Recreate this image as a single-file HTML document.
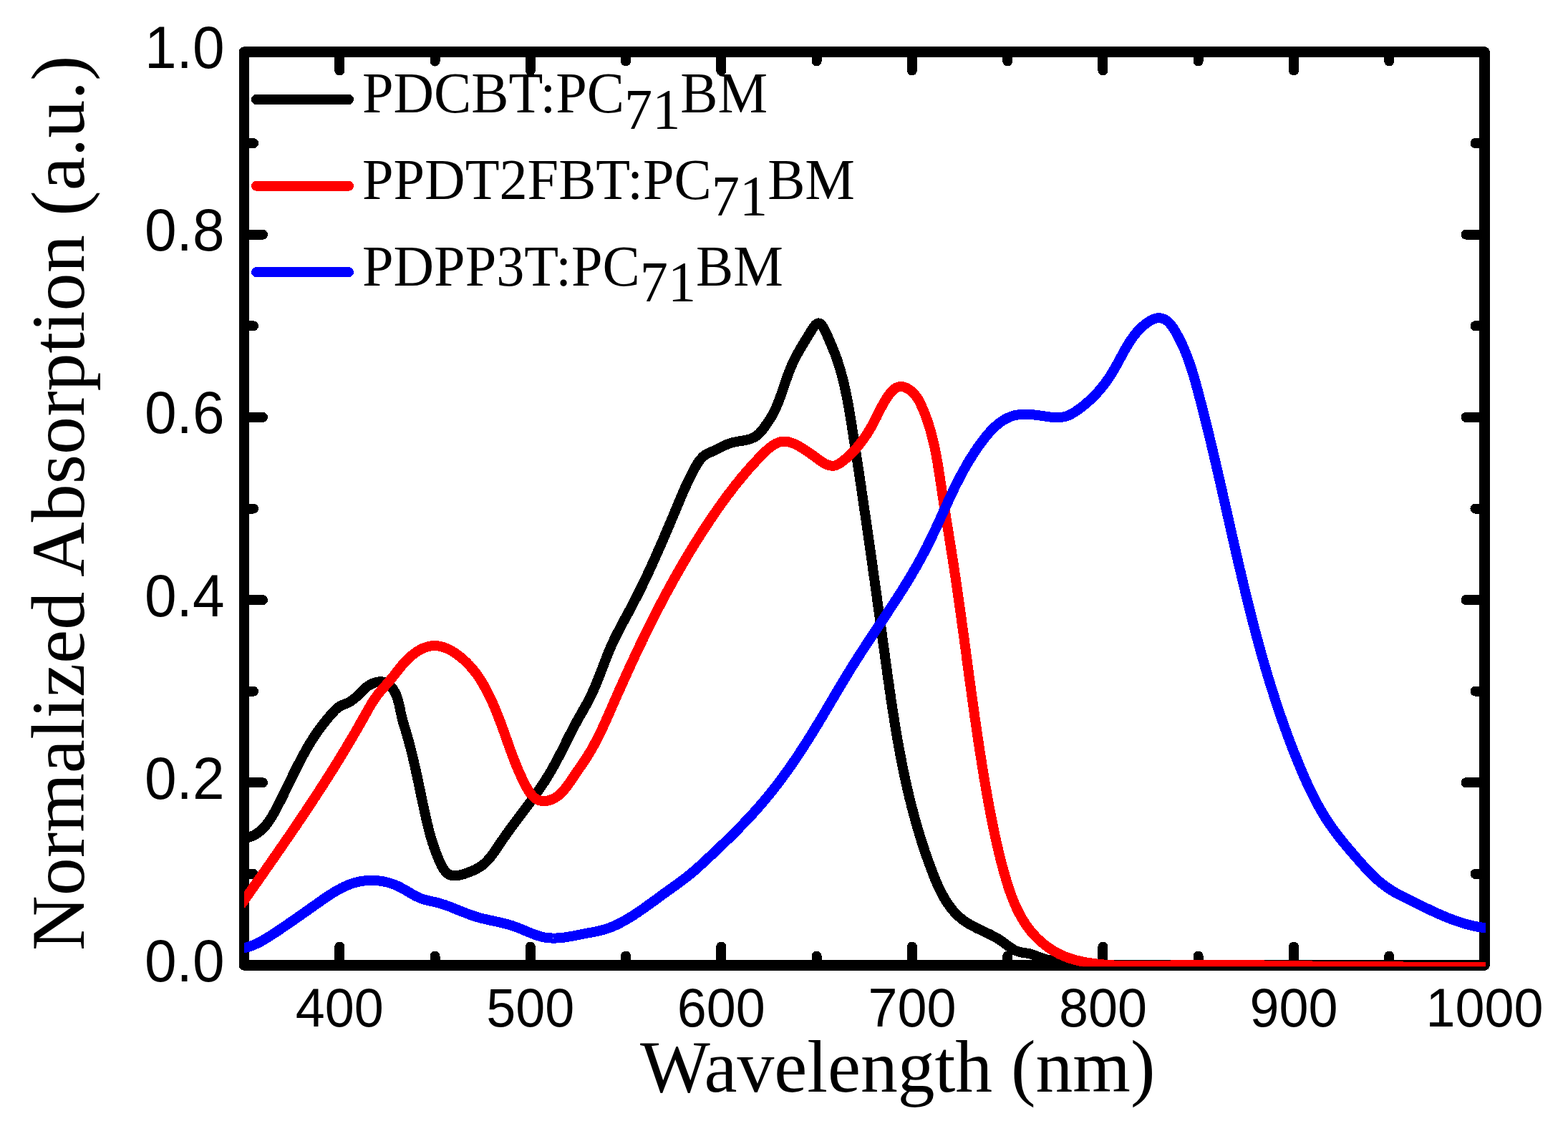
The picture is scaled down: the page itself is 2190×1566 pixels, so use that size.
<!DOCTYPE html>
<html><head><meta charset="utf-8"><title>Normalized Absorption</title>
<style>
html,body{margin:0;padding:0;background:#fff;}
body{width:2190px;height:1566px;overflow:hidden;}
svg{display:block;}
.sans{font-family:"Liberation Sans",Arial,sans-serif;}
.serif{font-family:"Liberation Serif","Times New Roman",serif;}
</style></head><body>
<svg width="2190" height="1566" viewBox="0 0 2190 1566">
<rect width="2190" height="1566" fill="#fff"/>
<defs><clipPath id="pc"><rect x="341" y="0" width="1734" height="1350.2"/></clipPath></defs>
<g class="serif" font-size="78" fill="#000">
<path d="M358 139.0H487" stroke="#000000" stroke-width="14" stroke-linecap="round" fill="none" shape-rendering="crispEdges"/>
<text transform="translate(506.0 156.6) scale(1.004 1.02)">PDCBT:PC<tspan dy="22.5">71</tspan><tspan dy="-22.5">BM</tspan></text>
<path d="M358 259.7H487" stroke="#ff0000" stroke-width="14" stroke-linecap="round" fill="none" shape-rendering="crispEdges"/>
<text transform="translate(506.0 278.0) scale(1.004 1.02)">PPDT2FBT:PC<tspan dy="22.5">71</tspan><tspan dy="-22.5">BM</tspan></text>
<path d="M358 380.2H487" stroke="#0000ff" stroke-width="14" stroke-linecap="round" fill="none" shape-rendering="crispEdges"/>
<text transform="translate(506.0 398.5) scale(1.004 1.02)">PDPP3T:PC<tspan dy="22.5">71</tspan><tspan dy="-22.5">BM</tspan></text>
</g>
<rect x="341.0" y="72.5" width="1732.5" height="1276.0" fill="none" stroke="#000" stroke-width="14.5" stroke-linejoin="round" shape-rendering="crispEdges"/>
<path d="M474.3 1348.5L474.3 1322.5 M474.3 72.5L474.3 98.5 M607.5 1348.5L607.5 1335.5 M607.5 72.5L607.5 85.5 M740.8 1348.5L740.8 1322.5 M740.8 72.5L740.8 98.5 M874.1 1348.5L874.1 1335.5 M874.1 72.5L874.1 85.5 M1007.3 1348.5L1007.3 1322.5 M1007.3 72.5L1007.3 98.5 M1140.6 1348.5L1140.6 1335.5 M1140.6 72.5L1140.6 85.5 M1273.9 1348.5L1273.9 1322.5 M1273.9 72.5L1273.9 98.5 M1407.2 1348.5L1407.2 1335.5 M1407.2 72.5L1407.2 85.5 M1540.4 1348.5L1540.4 1322.5 M1540.4 72.5L1540.4 98.5 M1673.7 1348.5L1673.7 1335.5 M1673.7 72.5L1673.7 85.5 M1807.0 1348.5L1807.0 1322.5 M1807.0 72.5L1807.0 98.5 M1940.2 1348.5L1940.2 1335.5 M1940.2 72.5L1940.2 85.5 M2073.5 1348.5L2073.5 1322.5 M2073.5 72.5L2073.5 98.5 M341.0 1220.9L354.0 1220.9 M2073.5 1220.9L2060.5 1220.9 M341.0 1093.3L367.0 1093.3 M2073.5 1093.3L2047.5 1093.3 M341.0 965.7L354.0 965.7 M2073.5 965.7L2060.5 965.7 M341.0 838.1L367.0 838.1 M2073.5 838.1L2047.5 838.1 M341.0 710.5L354.0 710.5 M2073.5 710.5L2060.5 710.5 M341.0 582.9L367.0 582.9 M2073.5 582.9L2047.5 582.9 M341.0 455.3L354.0 455.3 M2073.5 455.3L2060.5 455.3 M341.0 327.7L367.0 327.7 M2073.5 327.7L2047.5 327.7 M341.0 200.1L354.0 200.1 M2073.5 200.1L2060.5 200.1 M341.0 72.5L367.0 72.5 M2073.5 72.5L2047.5 72.5" stroke="#000" stroke-width="14" stroke-linecap="round" fill="none" shape-rendering="crispEdges"/>
<g clip-path="url(#pc)" fill="none" stroke-width="14" stroke-linejoin="round" stroke-linecap="butt" shape-rendering="crispEdges">
<path d="M336.3 1171.9L337.9 1171.7L339.3 1171.6L340.8 1171.4L342.2 1171.1L343.6 1170.8L345.0 1170.5L346.3 1170.1L347.6 1169.7L348.9 1169.3L350.2 1168.8L351.4 1168.3L352.6 1167.8L353.8 1167.3L355.0 1166.7L356.1 1166.0L357.2 1165.4L358.3 1164.7L359.4 1164.0L360.4 1163.3L361.5 1162.5L362.5 1161.7L363.5 1160.9L364.4 1160.1L365.4 1159.2L366.3 1158.3L367.2 1157.4L368.1 1156.5L369.0 1155.5L369.9 1154.6L370.7 1153.6L371.6 1152.6L372.4 1151.6L373.2 1150.5L374.0 1149.5L374.8 1148.4L375.5 1147.3L376.3 1146.2L377.0 1145.1L377.8 1144.0L378.5 1142.9L379.2 1141.7L379.9 1140.6L380.6 1139.4L381.3 1138.2L381.9 1137.1L382.6 1135.9L383.3 1134.7L383.9 1133.5L384.6 1132.3L385.2 1131.1L385.9 1129.9L386.5 1128.7L387.1 1127.5L387.8 1126.3L388.4 1125.0L389.0 1123.8L389.6 1122.6L390.2 1121.4L390.8 1120.2L391.5 1119.0L392.1 1117.8L392.7 1116.6L393.3 1115.4L393.9 1114.1L394.5 1112.9L395.1 1111.7L395.7 1110.5L396.3 1109.3L396.9 1108.1L397.4 1106.9L398.0 1105.7L398.6 1104.5L399.2 1103.3L399.8 1102.1L400.4 1100.8L401.0 1099.6L401.6 1098.4L402.1 1097.2L402.7 1096.0L403.3 1094.8L403.9 1093.6L404.5 1092.4L405.1 1091.2L405.6 1090.0L406.2 1088.8L406.8 1087.6L407.4 1086.4L408.0 1085.2L408.6 1084.0L409.1 1082.8L409.7 1081.6L410.3 1080.4L410.9 1079.2L411.5 1078.0L412.1 1076.8L412.7 1075.7L413.3 1074.5L413.9 1073.3L414.4 1072.1L415.0 1070.9L415.6 1069.7L416.2 1068.5L416.9 1067.4L417.5 1066.2L418.1 1065.0L418.7 1063.8L419.3 1062.6L419.9 1061.5L420.5 1060.3L421.1 1059.1L421.8 1058.0L422.4 1056.8L423.0 1055.6L423.6 1054.5L424.3 1053.3L424.9 1052.1L425.6 1051.0L426.2 1049.8L426.9 1048.7L427.5 1047.5L428.2 1046.4L428.8 1045.2L429.5 1044.1L430.2 1042.9L430.8 1041.8L431.5 1040.7L432.2 1039.5L432.9 1038.4L433.6 1037.2L434.3 1036.1L435.0 1035.0L435.7 1033.9L436.4 1032.7L437.1 1031.6L437.9 1030.5L438.6 1029.4L439.3 1028.3L440.1 1027.1L440.8 1026.0L441.6 1024.9L442.3 1023.8L443.1 1022.7L443.8 1021.6L444.6 1020.5L445.4 1019.4L446.2 1018.3L447.0 1017.3L447.8 1016.2L448.6 1015.1L449.4 1014.0L450.3 1012.9L451.1 1011.9L451.9 1010.8L452.8 1009.7L453.6 1008.7L454.5 1007.6L455.3 1006.5L456.2 1005.5L457.1 1004.4L457.9 1003.4L458.8 1002.4L459.7 1001.3L460.6 1000.3L461.5 999.3L462.3 998.3L463.2 997.3L464.1 996.3L465.0 995.3L465.9 994.3L466.8 993.3L467.7 992.4L468.6 991.5L469.6 990.6L470.5 989.7L471.5 988.9L472.5 988.1L473.5 987.4L474.6 986.7L475.7 986.1L476.8 985.5L478.0 985.0L479.2 984.5L480.4 984.0L481.6 983.6L482.8 983.1L484.0 982.7L485.2 982.1L486.3 981.6L487.5 981.0L488.6 980.3L489.7 979.7L490.7 979.0L491.8 978.2L492.8 977.5L493.9 976.7L494.9 975.9L495.9 975.0L496.9 974.2L497.9 973.3L498.8 972.4L499.8 971.5L500.8 970.6L501.7 969.7L502.6 968.7L503.6 967.8L504.5 966.9L505.4 965.9L506.3 965.0L507.3 964.1L508.2 963.2L509.2 962.3L510.2 961.4L511.2 960.5L512.2 959.7L513.3 958.9L514.4 958.1L515.5 957.3L516.7 956.6L517.9 956.0L519.2 955.3L520.5 954.8L521.8 954.2L523.1 953.8L524.5 953.3L525.8 953.0L527.2 952.7L528.6 952.5L529.9 952.4L531.3 952.3L532.6 952.3L533.9 952.4L535.2 952.6L536.4 952.9L537.7 953.3L538.8 953.8L540.0 954.3L541.1 955.0L542.1 955.7L543.2 956.4L544.2 957.3L545.1 958.1L546.0 959.1L546.9 960.0L547.7 961.0L548.5 962.0L549.2 963.1L549.9 964.2L550.6 965.3L551.2 966.4L551.8 967.6L552.4 968.8L553.0 970.0L553.5 971.2L554.0 972.4L554.4 973.7L554.9 974.9L555.3 976.2L555.7 977.5L556.0 978.8L556.4 980.2L556.7 981.5L557.1 982.8L557.4 984.2L557.7 985.5L558.0 986.9L558.3 988.3L558.6 989.6L558.9 991.0L559.1 992.3L559.4 993.7L559.7 995.1L560.0 996.4L560.3 997.8L560.6 999.1L560.9 1000.4L561.2 1001.8L561.5 1003.1L561.8 1004.4L562.2 1005.7L562.5 1007.0L562.9 1008.2L563.2 1009.5L563.6 1010.8L564.0 1012.1L564.4 1013.3L564.7 1014.6L565.1 1015.8L565.5 1017.1L565.9 1018.3L566.3 1019.6L566.6 1020.8L567.0 1022.1L567.4 1023.3L567.8 1024.6L568.1 1025.9L568.5 1027.1L568.9 1028.4L569.2 1029.7L569.6 1030.9L569.9 1032.2L570.3 1033.5L570.7 1034.7L571.0 1036.0L571.3 1037.3L571.7 1038.6L572.0 1039.9L572.4 1041.2L572.7 1042.4L573.0 1043.7L573.4 1045.0L573.7 1046.3L574.0 1047.6L574.4 1048.9L574.7 1050.2L575.0 1051.5L575.3 1052.8L575.6 1054.1L575.9 1055.4L576.3 1056.7L576.6 1058.0L576.9 1059.3L577.2 1060.6L577.5 1061.9L577.8 1063.2L578.1 1064.5L578.4 1065.8L578.7 1067.2L579.0 1068.5L579.3 1069.8L579.6 1071.1L579.9 1072.4L580.2 1073.7L580.5 1075.0L580.8 1076.3L581.1 1077.7L581.3 1079.0L581.6 1080.3L581.9 1081.6L582.2 1082.9L582.5 1084.2L582.8 1085.6L583.1 1086.9L583.3 1088.2L583.6 1089.5L583.9 1090.8L584.2 1092.1L584.5 1093.5L584.7 1094.8L585.0 1096.1L585.3 1097.4L585.6 1098.7L585.8 1100.0L586.1 1101.4L586.4 1102.7L586.7 1104.0L587.0 1105.3L587.2 1106.6L587.5 1107.9L587.8 1109.2L588.1 1110.5L588.3 1111.9L588.6 1113.2L588.9 1114.5L589.2 1115.8L589.4 1117.1L589.7 1118.4L590.0 1119.7L590.3 1121.0L590.5 1122.3L590.8 1123.6L591.1 1124.9L591.4 1126.2L591.6 1127.5L591.9 1128.8L592.2 1130.1L592.5 1131.4L592.8 1132.7L593.0 1134.0L593.3 1135.3L593.6 1136.6L593.9 1137.9L594.2 1139.1L594.5 1140.4L594.7 1141.7L595.0 1143.0L595.3 1144.3L595.6 1145.6L595.9 1146.8L596.2 1148.1L596.5 1149.4L596.8 1150.7L597.1 1152.0L597.5 1153.2L597.8 1154.5L598.1 1155.8L598.4 1157.1L598.7 1158.3L599.1 1159.6L599.4 1160.9L599.7 1162.2L600.1 1163.5L600.4 1164.7L600.8 1166.0L601.1 1167.3L601.5 1168.6L601.9 1169.8L602.3 1171.1L602.6 1172.4L603.0 1173.7L603.4 1175.0L603.8 1176.2L604.2 1177.5L604.6 1178.8L605.1 1180.1L605.5 1181.4L605.9 1182.7L606.4 1184.0L606.8 1185.2L607.3 1186.5L607.7 1187.8L608.2 1189.1L608.7 1190.4L609.2 1191.7L609.7 1193.0L610.2 1194.3L610.7 1195.6L611.2 1196.9L611.8 1198.2L612.3 1199.6L612.9 1200.9L613.4 1202.2L614.0 1203.5L614.6 1204.8L615.2 1206.1L615.8 1207.4L616.4 1208.7L617.1 1210.0L617.8 1211.2L618.5 1212.4L619.2 1213.5L619.9 1214.7L620.7 1215.7L621.5 1216.8L622.4 1217.7L623.2 1218.6L624.1 1219.5L625.1 1220.3L626.1 1221.0L627.1 1221.6L628.1 1222.1L629.2 1222.5L630.4 1222.9L631.6 1223.2L632.8 1223.3L634.1 1223.4L635.4 1223.4L636.8 1223.4L638.1 1223.2L639.5 1223.0L640.9 1222.8L642.3 1222.5L643.7 1222.2L645.1 1221.8L646.6 1221.4L648.0 1221.0L649.4 1220.5L650.8 1220.0L652.1 1219.5L653.5 1219.1L654.8 1218.6L656.1 1218.0L657.4 1217.5L658.7 1217.0L660.0 1216.5L661.2 1215.9L662.4 1215.4L663.6 1214.8L664.8 1214.2L665.9 1213.6L667.1 1213.0L668.2 1212.3L669.3 1211.7L670.3 1211.0L671.4 1210.3L672.4 1209.6L673.5 1208.8L674.5 1208.0L675.4 1207.2L676.4 1206.4L677.4 1205.6L678.3 1204.7L679.2 1203.8L680.1 1202.9L681.0 1201.9L681.9 1201.0L682.7 1200.0L683.6 1199.0L684.4 1198.0L685.3 1197.0L686.1 1195.9L686.9 1194.9L687.7 1193.8L688.5 1192.8L689.3 1191.7L690.0 1190.6L690.8 1189.5L691.6 1188.4L692.4 1187.2L693.1 1186.1L693.9 1185.0L694.6 1183.9L695.4 1182.7L696.2 1181.6L696.9 1180.4L697.7 1179.3L698.4 1178.2L699.2 1177.0L699.9 1175.9L700.7 1174.8L701.5 1173.7L702.2 1172.6L703.0 1171.4L703.8 1170.3L704.6 1169.2L705.4 1168.1L706.1 1167.0L706.9 1165.9L707.7 1164.8L708.5 1163.7L709.3 1162.6L710.1 1161.5L710.9 1160.4L711.6 1159.3L712.4 1158.2L713.2 1157.1L714.0 1156.0L714.8 1155.0L715.6 1153.9L716.4 1152.8L717.2 1151.7L718.0 1150.6L718.8 1149.6L719.6 1148.5L720.4 1147.4L721.2 1146.3L722.0 1145.3L722.8 1144.2L723.6 1143.1L724.4 1142.0L725.2 1141.0L726.0 1139.9L726.8 1138.8L727.7 1137.8L728.5 1136.7L729.3 1135.6L730.1 1134.6L730.9 1133.5L731.7 1132.4L732.5 1131.4L733.3 1130.3L734.1 1129.2L734.9 1128.2L735.7 1127.1L736.4 1126.0L737.2 1125.0L738.0 1123.9L738.8 1122.8L739.6 1121.8L740.4 1120.7L741.2 1119.6L742.0 1118.5L742.8 1117.5L743.5 1116.4L744.3 1115.3L745.1 1114.2L745.9 1113.2L746.7 1112.1L747.4 1111.0L748.2 1109.9L749.0 1108.8L749.7 1107.8L750.5 1106.7L751.3 1105.6L752.0 1104.5L752.8 1103.4L753.5 1102.3L754.3 1101.2L755.0 1100.1L755.8 1099.0L756.5 1097.9L757.2 1096.8L758.0 1095.7L758.7 1094.6L759.4 1093.5L760.2 1092.4L760.9 1091.3L761.6 1090.2L762.3 1089.0L763.0 1087.9L763.7 1086.8L764.4 1085.7L765.1 1084.5L765.8 1083.4L766.5 1082.3L767.2 1081.1L767.8 1080.0L768.5 1078.8L769.2 1077.7L769.9 1076.5L770.5 1075.4L771.2 1074.2L771.8 1073.0L772.5 1071.9L773.1 1070.7L773.8 1069.5L774.4 1068.4L775.1 1067.2L775.7 1066.0L776.3 1064.8L777.0 1063.7L777.6 1062.5L778.2 1061.3L778.8 1060.1L779.5 1058.9L780.1 1057.7L780.7 1056.5L781.3 1055.3L781.9 1054.2L782.5 1053.0L783.2 1051.8L783.8 1050.6L784.4 1049.4L785.0 1048.2L785.6 1047.0L786.2 1045.8L786.8 1044.6L787.4 1043.4L788.0 1042.2L788.6 1041.0L789.2 1039.8L789.8 1038.6L790.4 1037.4L791.0 1036.1L791.6 1034.9L792.2 1033.7L792.8 1032.5L793.4 1031.3L794.0 1030.1L794.6 1028.9L795.2 1027.7L795.8 1026.5L796.5 1025.3L797.1 1024.1L797.7 1023.0L798.3 1021.8L798.9 1020.6L799.5 1019.4L800.1 1018.2L800.8 1017.0L801.4 1015.8L802.0 1014.6L802.6 1013.4L803.2 1012.2L803.9 1011.1L804.5 1009.9L805.2 1008.7L805.8 1007.5L806.4 1006.4L807.1 1005.2L807.7 1004.0L808.4 1002.9L809.0 1001.7L809.7 1000.5L810.4 999.4L811.0 998.2L811.7 997.1L812.3 995.9L813.0 994.8L813.7 993.6L814.3 992.4L815.0 991.3L815.6 990.1L816.3 989.0L817.0 987.8L817.6 986.7L818.3 985.5L818.9 984.3L819.5 983.2L820.2 982.0L820.8 980.8L821.4 979.7L822.0 978.5L822.7 977.3L823.3 976.1L823.9 974.9L824.4 973.7L825.0 972.5L825.6 971.4L826.2 970.1L826.7 968.9L827.3 967.7L827.8 966.5L828.4 965.3L828.9 964.1L829.5 962.9L830.0 961.7L830.5 960.4L831.1 959.2L831.6 958.0L832.1 956.7L832.6 955.5L833.1 954.3L833.6 953.0L834.1 951.8L834.6 950.6L835.1 949.3L835.6 948.1L836.1 946.8L836.6 945.6L837.1 944.3L837.6 943.1L838.1 941.8L838.6 940.6L839.0 939.3L839.5 938.1L840.0 936.8L840.5 935.6L841.0 934.3L841.4 933.1L841.9 931.8L842.4 930.6L842.9 929.3L843.4 928.1L843.8 926.8L844.3 925.6L844.8 924.3L845.3 923.1L845.8 921.8L846.3 920.6L846.7 919.3L847.2 918.1L847.7 916.8L848.2 915.6L848.7 914.4L849.2 913.1L849.7 911.9L850.2 910.6L850.8 909.4L851.3 908.2L851.8 906.9L852.3 905.7L852.8 904.5L853.4 903.3L853.9 902.0L854.5 900.8L855.0 899.6L855.6 898.4L856.1 897.2L856.7 896.0L857.2 894.7L857.8 893.5L858.4 892.3L859.0 891.1L859.6 889.9L860.2 888.7L860.7 887.5L861.3 886.4L861.9 885.2L862.5 884.0L863.2 882.8L863.8 881.6L864.4 880.4L865.0 879.2L865.6 878.1L866.2 876.9L866.9 875.7L867.5 874.5L868.1 873.3L868.7 872.2L869.4 871.0L870.0 869.8L870.6 868.6L871.3 867.5L871.9 866.3L872.5 865.1L873.2 863.9L873.8 862.8L874.4 861.6L875.1 860.4L875.7 859.3L876.3 858.1L877.0 856.9L877.6 855.7L878.2 854.6L878.9 853.4L879.5 852.2L880.1 851.0L880.8 849.8L881.4 848.7L882.0 847.5L882.6 846.3L883.2 845.1L883.9 843.9L884.5 842.8L885.1 841.6L885.7 840.4L886.3 839.2L886.9 838.0L887.5 836.8L888.2 835.6L888.8 834.4L889.4 833.3L890.0 832.1L890.6 830.9L891.2 829.7L891.8 828.5L892.4 827.3L893.0 826.1L893.5 824.9L894.1 823.7L894.7 822.5L895.3 821.3L895.9 820.1L896.5 818.9L897.1 817.7L897.7 816.5L898.2 815.3L898.8 814.1L899.4 812.9L900.0 811.7L900.6 810.5L901.1 809.3L901.7 808.0L902.3 806.8L902.9 805.6L903.4 804.4L904.0 803.2L904.6 802.0L905.1 800.8L905.7 799.6L906.3 798.4L906.8 797.1L907.4 795.9L907.9 794.7L908.5 793.5L909.1 792.3L909.6 791.1L910.2 789.9L910.7 788.6L911.3 787.4L911.8 786.2L912.4 785.0L912.9 783.8L913.5 782.5L914.0 781.3L914.6 780.1L915.1 778.9L915.7 777.7L916.2 776.4L916.8 775.2L917.3 774.0L917.8 772.8L918.4 771.5L918.9 770.3L919.5 769.1L920.0 767.9L920.5 766.6L921.1 765.4L921.6 764.2L922.2 763.0L922.7 761.7L923.2 760.5L923.8 759.3L924.3 758.1L924.8 756.8L925.3 755.6L925.9 754.4L926.4 753.2L926.9 751.9L927.5 750.7L928.0 749.5L928.5 748.2L929.0 747.0L929.6 745.8L930.1 744.6L930.6 743.3L931.1 742.1L931.7 740.9L932.2 739.6L932.7 738.4L933.2 737.2L933.8 736.0L934.3 734.7L934.8 733.5L935.3 732.3L935.8 731.0L936.3 729.8L936.9 728.6L937.4 727.3L937.9 726.1L938.4 724.9L938.9 723.7L939.5 722.4L940.0 721.2L940.5 720.0L941.0 718.7L941.5 717.5L942.0 716.3L942.5 715.0L943.1 713.8L943.6 712.6L944.1 711.4L944.6 710.1L945.1 708.9L945.6 707.7L946.1 706.4L946.6 705.2L947.2 704.0L947.7 702.8L948.2 701.5L948.7 700.3L949.2 699.1L949.7 697.9L950.3 696.6L950.8 695.4L951.3 694.2L951.8 693.0L952.4 691.7L952.9 690.5L953.4 689.3L953.9 688.1L954.5 686.8L955.0 685.6L955.5 684.4L956.1 683.2L956.6 682.0L957.2 680.7L957.7 679.5L958.3 678.3L958.8 677.1L959.4 675.9L960.0 674.7L960.5 673.5L961.1 672.3L961.7 671.0L962.3 669.8L962.8 668.6L963.4 667.4L964.0 666.2L964.6 665.0L965.2 663.8L965.8 662.6L966.5 661.4L967.1 660.2L967.7 659.0L968.3 657.8L969.0 656.6L969.6 655.4L970.3 654.2L970.9 653.1L971.6 651.9L972.3 650.7L972.9 649.5L973.6 648.4L974.4 647.3L975.1 646.2L975.8 645.1L976.6 644.0L977.4 643.0L978.2 641.9L979.0 641.0L979.9 640.0L980.8 639.1L981.7 638.2L982.6 637.3L983.6 636.5L984.6 635.8L985.6 635.1L986.7 634.4L987.8 633.8L988.9 633.2L990.0 632.7L991.2 632.2L992.4 631.7L993.6 631.2L994.8 630.7L996.0 630.2L997.2 629.7L998.4 629.1L999.6 628.5L1000.8 627.9L1002.0 627.3L1003.2 626.7L1004.4 626.1L1005.5 625.5L1006.7 624.9L1007.9 624.3L1009.1 623.7L1010.3 623.2L1011.5 622.6L1012.7 622.0L1013.9 621.5L1015.1 621.0L1016.3 620.5L1017.6 620.0L1018.8 619.6L1020.0 619.2L1021.3 618.8L1022.6 618.4L1023.9 618.1L1025.1 617.8L1026.5 617.5L1027.8 617.2L1029.1 617.0L1030.4 616.7L1031.7 616.5L1033.1 616.3L1034.4 616.1L1035.7 615.9L1037.0 615.7L1038.3 615.4L1039.7 615.2L1041.0 614.9L1042.3 614.7L1043.5 614.4L1044.8 614.1L1046.1 613.7L1047.3 613.4L1048.5 613.0L1049.8 612.5L1050.9 612.0L1052.1 611.5L1053.3 610.9L1054.4 610.3L1055.5 609.6L1056.5 608.9L1057.6 608.1L1058.6 607.2L1059.6 606.3L1060.6 605.4L1061.5 604.4L1062.4 603.4L1063.3 602.3L1064.2 601.2L1065.1 600.1L1065.9 599.0L1066.7 597.9L1067.6 596.8L1068.4 595.7L1069.1 594.5L1069.9 593.4L1070.7 592.3L1071.5 591.3L1072.2 590.2L1072.9 589.1L1073.7 588.0L1074.4 587.0L1075.1 585.9L1075.8 584.8L1076.4 583.7L1077.1 582.6L1077.8 581.5L1078.4 580.4L1079.0 579.3L1079.6 578.1L1080.2 577.0L1080.8 575.8L1081.4 574.7L1082.0 573.5L1082.6 572.3L1083.1 571.1L1083.7 569.9L1084.2 568.7L1084.7 567.5L1085.2 566.3L1085.8 565.0L1086.3 563.8L1086.8 562.5L1087.3 561.3L1087.7 560.0L1088.2 558.8L1088.7 557.5L1089.2 556.3L1089.6 555.0L1090.1 553.7L1090.6 552.4L1091.0 551.2L1091.5 549.9L1091.9 548.6L1092.4 547.3L1092.8 546.0L1093.2 544.7L1093.7 543.4L1094.1 542.2L1094.6 540.9L1095.0 539.6L1095.4 538.3L1095.9 537.0L1096.3 535.7L1096.7 534.4L1097.2 533.1L1097.6 531.9L1098.1 530.6L1098.5 529.3L1099.0 528.0L1099.4 526.8L1099.9 525.5L1100.3 524.2L1100.8 523.0L1101.2 521.7L1101.7 520.5L1102.2 519.2L1102.7 518.0L1103.2 516.7L1103.7 515.5L1104.2 514.3L1104.7 513.1L1105.2 511.9L1105.7 510.7L1106.2 509.5L1106.8 508.3L1107.3 507.1L1107.8 506.0L1108.4 504.8L1109.0 503.6L1109.5 502.5L1110.1 501.3L1110.7 500.2L1111.3 499.0L1111.9 497.9L1112.5 496.7L1113.1 495.6L1113.7 494.4L1114.4 493.3L1115.0 492.2L1115.6 491.0L1116.3 489.9L1117.0 488.7L1117.6 487.6L1118.3 486.4L1119.0 485.3L1119.7 484.1L1120.3 482.9L1121.0 481.8L1121.7 480.6L1122.5 479.4L1123.2 478.2L1123.9 477.0L1124.6 475.8L1125.4 474.6L1126.1 473.4L1126.9 472.2L1127.6 471.0L1128.4 469.7L1129.1 468.5L1129.9 467.2L1130.7 465.9L1131.5 464.6L1132.3 463.3L1133.1 462.0L1133.9 460.7L1134.7 459.5L1135.5 458.2L1136.3 457.1L1137.2 455.9L1138.0 454.9L1138.8 454.0L1139.6 453.2L1140.5 452.5L1141.3 452.0L1142.9 451.4L1144.5 451.7L1146.1 452.6L1146.9 453.3L1147.7 454.2L1148.4 455.1L1149.2 456.2L1149.9 457.4L1150.7 458.7L1151.4 460.1L1152.1 461.5L1152.9 463.0L1153.6 464.5L1154.2 466.0L1154.9 467.5L1155.6 469.0L1156.2 470.5L1156.9 472.0L1157.5 473.4L1158.1 474.8L1158.7 476.2L1159.2 477.6L1159.8 478.9L1160.4 480.2L1160.9 481.4L1161.4 482.7L1162.0 483.9L1162.5 485.1L1163.0 486.3L1163.5 487.5L1163.9 488.7L1164.4 489.9L1164.9 491.0L1165.4 492.2L1165.8 493.4L1166.3 494.5L1166.7 495.7L1167.1 496.9L1167.6 498.1L1168.0 499.3L1168.4 500.5L1168.9 501.7L1169.3 502.9L1169.7 504.1L1170.1 505.4L1170.5 506.6L1170.9 507.9L1171.3 509.1L1171.7 510.4L1172.1 511.7L1172.5 512.9L1172.9 514.2L1173.3 515.5L1173.6 516.8L1174.0 518.1L1174.4 519.4L1174.7 520.7L1175.1 522.0L1175.5 523.3L1175.8 524.6L1176.2 525.9L1176.5 527.2L1176.8 528.5L1177.2 529.8L1177.5 531.1L1177.8 532.4L1178.1 533.7L1178.4 535.1L1178.8 536.4L1179.1 537.7L1179.4 539.0L1179.7 540.3L1180.0 541.6L1180.2 542.9L1180.5 544.2L1180.8 545.5L1181.1 546.8L1181.4 548.2L1181.6 549.5L1181.9 550.8L1182.2 552.1L1182.5 553.4L1182.7 554.7L1183.0 556.0L1183.2 557.3L1183.5 558.7L1183.7 560.0L1184.0 561.3L1184.2 562.6L1184.5 563.9L1184.7 565.2L1184.9 566.5L1185.2 567.9L1185.4 569.2L1185.7 570.5L1185.9 571.8L1186.1 573.1L1186.3 574.4L1186.6 575.7L1186.8 577.1L1187.0 578.4L1187.2 579.7L1187.4 581.0L1187.7 582.3L1187.9 583.6L1188.1 585.0L1188.3 586.3L1188.5 587.6L1188.7 588.9L1188.9 590.2L1189.1 591.5L1189.4 592.9L1189.6 594.2L1189.8 595.5L1190.0 596.8L1190.2 598.1L1190.4 599.5L1190.6 600.8L1190.8 602.1L1191.0 603.4L1191.2 604.7L1191.4 606.0L1191.6 607.4L1191.8 608.7L1192.0 610.0L1192.2 611.3L1192.4 612.6L1192.6 614.0L1192.9 615.3L1193.1 616.6L1193.3 617.9L1193.5 619.2L1193.7 620.5L1193.9 621.9L1194.1 623.2L1194.3 624.5L1194.5 625.8L1194.7 627.1L1194.9 628.5L1195.1 629.8L1195.3 631.1L1195.5 632.4L1195.7 633.7L1195.9 635.1L1196.1 636.4L1196.3 637.7L1196.5 639.0L1196.7 640.3L1196.9 641.7L1197.1 643.0L1197.3 644.3L1197.5 645.6L1197.7 646.9L1197.9 648.3L1198.1 649.6L1198.3 650.9L1198.5 652.2L1198.7 653.5L1198.9 654.9L1199.1 656.2L1199.3 657.5L1199.5 658.8L1199.7 660.1L1199.9 661.5L1200.1 662.8L1200.3 664.1L1200.5 665.4L1200.7 666.7L1200.9 668.1L1201.1 669.4L1201.3 670.7L1201.5 672.0L1201.7 673.3L1201.9 674.7L1202.1 676.0L1202.3 677.3L1202.5 678.6L1202.7 679.9L1202.8 681.3L1203.0 682.6L1203.2 683.9L1203.4 685.2L1203.6 686.6L1203.8 687.9L1204.0 689.2L1204.2 690.5L1204.4 691.8L1204.6 693.2L1204.8 694.5L1205.0 695.8L1205.2 697.1L1205.4 698.4L1205.6 699.8L1205.8 701.1L1206.0 702.4L1206.2 703.7L1206.4 705.1L1206.5 706.4L1206.7 707.7L1206.9 709.0L1207.1 710.3L1207.3 711.7L1207.5 713.0L1207.7 714.3L1207.9 715.6L1208.1 717.0L1208.3 718.3L1208.5 719.6L1208.7 720.9L1208.9 722.2L1209.0 723.6L1209.2 724.9L1209.4 726.2L1209.6 727.5L1209.8 728.9L1210.0 730.2L1210.2 731.5L1210.4 732.8L1210.6 734.2L1210.8 735.5L1211.0 736.8L1211.2 738.1L1211.3 739.4L1211.5 740.8L1211.7 742.1L1211.9 743.4L1212.1 744.7L1212.3 746.1L1212.5 747.4L1212.7 748.7L1212.9 750.0L1213.0 751.3L1213.2 752.7L1213.4 754.0L1213.6 755.3L1213.8 756.6L1214.0 758.0L1214.2 759.3L1214.4 760.6L1214.6 761.9L1214.7 763.3L1214.9 764.6L1215.1 765.9L1215.3 767.2L1215.5 768.6L1215.7 769.9L1215.9 771.2L1216.1 772.5L1216.3 773.8L1216.4 775.2L1216.6 776.5L1216.8 777.8L1217.0 779.1L1217.2 780.5L1217.4 781.8L1217.6 783.1L1217.7 784.4L1217.9 785.8L1218.1 787.1L1218.3 788.4L1218.5 789.7L1218.7 791.1L1218.9 792.4L1219.1 793.7L1219.2 795.0L1219.4 796.3L1219.6 797.7L1219.8 799.0L1220.0 800.3L1220.2 801.6L1220.4 803.0L1220.5 804.3L1220.7 805.6L1220.9 806.9L1221.1 808.3L1221.3 809.6L1221.5 810.9L1221.6 812.2L1221.8 813.6L1222.0 814.9L1222.2 816.2L1222.4 817.5L1222.6 818.9L1222.8 820.2L1222.9 821.5L1223.1 822.8L1223.3 824.2L1223.5 825.5L1223.7 826.8L1223.9 828.1L1224.0 829.4L1224.2 830.8L1224.4 832.1L1224.6 833.4L1224.8 834.7L1225.0 836.1L1225.1 837.4L1225.3 838.7L1225.5 840.0L1225.7 841.4L1225.9 842.7L1226.1 844.0L1226.2 845.3L1226.4 846.7L1226.6 848.0L1226.8 849.3L1227.0 850.6L1227.2 852.0L1227.3 853.3L1227.5 854.6L1227.7 855.9L1227.9 857.3L1228.1 858.6L1228.3 859.9L1228.4 861.2L1228.6 862.6L1228.8 863.9L1229.0 865.2L1229.2 866.5L1229.3 867.8L1229.5 869.2L1229.7 870.5L1229.9 871.8L1230.1 873.1L1230.3 874.5L1230.4 875.8L1230.6 877.1L1230.8 878.4L1231.0 879.8L1231.2 881.1L1231.3 882.4L1231.5 883.7L1231.7 885.1L1231.9 886.4L1232.1 887.7L1232.2 889.0L1232.4 890.4L1232.6 891.7L1232.8 893.0L1233.0 894.3L1233.2 895.7L1233.3 897.0L1233.5 898.3L1233.7 899.6L1233.9 901.0L1234.1 902.3L1234.2 903.6L1234.4 904.9L1234.6 906.2L1234.8 907.6L1235.0 908.9L1235.1 910.2L1235.3 911.5L1235.5 912.9L1235.7 914.2L1235.9 915.5L1236.0 916.8L1236.2 918.2L1236.4 919.5L1236.6 920.8L1236.8 922.1L1237.0 923.5L1237.1 924.8L1237.3 926.1L1237.5 927.4L1237.7 928.8L1237.9 930.1L1238.0 931.4L1238.2 932.7L1238.4 934.0L1238.6 935.4L1238.8 936.7L1239.0 938.0L1239.1 939.3L1239.3 940.7L1239.5 942.0L1239.7 943.3L1239.9 944.6L1240.1 946.0L1240.2 947.3L1240.4 948.6L1240.6 949.9L1240.8 951.2L1241.0 952.6L1241.2 953.9L1241.4 955.2L1241.6 956.5L1241.7 957.9L1241.9 959.2L1242.1 960.5L1242.3 961.8L1242.5 963.1L1242.7 964.5L1242.9 965.8L1243.1 967.1L1243.3 968.4L1243.5 969.7L1243.7 971.1L1243.8 972.4L1244.0 973.7L1244.2 975.0L1244.4 976.3L1244.6 977.7L1244.8 979.0L1245.0 980.3L1245.2 981.6L1245.4 982.9L1245.6 984.3L1245.8 985.6L1246.0 986.9L1246.2 988.2L1246.4 989.5L1246.6 990.9L1246.8 992.2L1247.0 993.5L1247.2 994.8L1247.4 996.1L1247.6 997.5L1247.8 998.8L1248.0 1000.1L1248.3 1001.4L1248.5 1002.7L1248.7 1004.0L1248.9 1005.4L1249.1 1006.7L1249.3 1008.0L1249.5 1009.3L1249.7 1010.6L1249.9 1011.9L1250.2 1013.3L1250.4 1014.6L1250.6 1015.9L1250.8 1017.2L1251.0 1018.5L1251.2 1019.8L1251.5 1021.2L1251.7 1022.5L1251.9 1023.8L1252.1 1025.1L1252.4 1026.4L1252.6 1027.7L1252.8 1029.0L1253.0 1030.4L1253.3 1031.7L1253.5 1033.0L1253.7 1034.3L1254.0 1035.6L1254.2 1036.9L1254.4 1038.2L1254.7 1039.6L1254.9 1040.9L1255.1 1042.2L1255.4 1043.5L1255.6 1044.8L1255.8 1046.1L1256.1 1047.4L1256.3 1048.7L1256.6 1050.0L1256.8 1051.4L1257.1 1052.7L1257.3 1054.0L1257.6 1055.3L1257.8 1056.6L1258.1 1057.9L1258.3 1059.2L1258.6 1060.5L1258.8 1061.8L1259.1 1063.1L1259.3 1064.5L1259.6 1065.8L1259.8 1067.1L1260.1 1068.4L1260.4 1069.7L1260.6 1071.0L1260.9 1072.3L1261.2 1073.6L1261.4 1074.9L1261.7 1076.2L1262.0 1077.5L1262.2 1078.8L1262.5 1080.1L1262.8 1081.4L1263.1 1082.7L1263.3 1084.0L1263.6 1085.4L1263.9 1086.7L1264.2 1088.0L1264.5 1089.3L1264.7 1090.6L1265.0 1091.9L1265.3 1093.2L1265.6 1094.5L1265.9 1095.8L1266.2 1097.1L1266.5 1098.4L1266.8 1099.7L1267.1 1101.0L1267.4 1102.3L1267.7 1103.6L1268.0 1104.9L1268.3 1106.2L1268.6 1107.5L1268.9 1108.8L1269.2 1110.1L1269.5 1111.4L1269.8 1112.7L1270.1 1114.0L1270.4 1115.3L1270.8 1116.6L1271.1 1117.9L1271.4 1119.2L1271.7 1120.5L1272.0 1121.7L1272.4 1123.0L1272.7 1124.3L1273.0 1125.6L1273.3 1126.9L1273.7 1128.2L1274.0 1129.5L1274.4 1130.8L1274.7 1132.1L1275.0 1133.4L1275.4 1134.7L1275.7 1136.0L1276.1 1137.3L1276.4 1138.6L1276.8 1139.9L1277.1 1141.1L1277.5 1142.4L1277.8 1143.7L1278.2 1145.0L1278.5 1146.3L1278.9 1147.6L1279.2 1148.9L1279.6 1150.2L1280.0 1151.5L1280.3 1152.7L1280.7 1154.0L1281.1 1155.3L1281.5 1156.6L1281.8 1157.9L1282.2 1159.2L1282.6 1160.5L1283.0 1161.7L1283.4 1163.0L1283.8 1164.3L1284.1 1165.6L1284.5 1166.9L1284.9 1168.2L1285.3 1169.4L1285.7 1170.7L1286.1 1172.0L1286.5 1173.3L1286.9 1174.6L1287.3 1175.8L1287.7 1177.1L1288.2 1178.4L1288.6 1179.7L1289.0 1181.0L1289.4 1182.2L1289.8 1183.5L1290.2 1184.8L1290.7 1186.1L1291.1 1187.3L1291.5 1188.6L1291.9 1189.9L1292.4 1191.2L1292.8 1192.4L1293.3 1193.7L1293.7 1195.0L1294.1 1196.3L1294.6 1197.5L1295.0 1198.8L1295.5 1200.1L1295.9 1201.4L1296.4 1202.6L1296.8 1203.9L1297.3 1205.2L1297.8 1206.4L1298.2 1207.7L1298.7 1209.0L1299.2 1210.2L1299.6 1211.5L1300.1 1212.8L1300.6 1214.0L1301.1 1215.3L1301.6 1216.6L1302.0 1217.8L1302.5 1219.1L1303.0 1220.4L1303.5 1221.6L1304.0 1222.9L1304.5 1224.2L1305.0 1225.4L1305.5 1226.7L1306.0 1227.9L1306.6 1229.2L1307.1 1230.4L1307.6 1231.7L1308.1 1232.9L1308.7 1234.1L1309.2 1235.4L1309.8 1236.6L1310.3 1237.8L1310.9 1239.1L1311.4 1240.3L1312.0 1241.5L1312.6 1242.7L1313.2 1243.9L1313.8 1245.1L1314.4 1246.3L1315.0 1247.5L1315.6 1248.6L1316.2 1249.8L1316.9 1251.0L1317.5 1252.1L1318.1 1253.3L1318.8 1254.4L1319.5 1255.6L1320.1 1256.7L1320.8 1257.8L1321.5 1258.9L1322.2 1260.0L1322.9 1261.1L1323.7 1262.2L1324.4 1263.3L1325.2 1264.3L1325.9 1265.4L1326.7 1266.4L1327.5 1267.5L1328.2 1268.5L1329.0 1269.5L1329.9 1270.5L1330.7 1271.5L1331.5 1272.5L1332.4 1273.5L1333.2 1274.4L1334.1 1275.4L1335.0 1276.3L1335.9 1277.2L1336.8 1278.1L1337.8 1279.0L1338.7 1279.9L1339.7 1280.8L1340.6 1281.7L1341.6 1282.5L1342.6 1283.3L1343.6 1284.1L1344.7 1284.9L1345.7 1285.7L1346.8 1286.5L1347.8 1287.3L1348.9 1288.0L1350.0 1288.7L1351.2 1289.4L1352.3 1290.1L1353.4 1290.8L1354.6 1291.5L1355.8 1292.2L1357.0 1292.8L1358.2 1293.5L1359.4 1294.1L1360.6 1294.7L1361.8 1295.3L1363.0 1296.0L1364.2 1296.6L1365.5 1297.2L1366.7 1297.8L1368.0 1298.4L1369.2 1299.0L1370.5 1299.5L1371.7 1300.1L1373.0 1300.7L1374.2 1301.3L1375.5 1301.9L1376.7 1302.5L1378.0 1303.1L1379.2 1303.7L1380.5 1304.3L1381.7 1304.9L1383.0 1305.5L1384.2 1306.1L1385.4 1306.8L1386.6 1307.4L1387.8 1308.0L1389.1 1308.7L1390.2 1309.4L1391.4 1310.0L1392.6 1310.7L1393.8 1311.4L1394.9 1312.1L1396.1 1312.8L1397.2 1313.6L1398.3 1314.3L1399.4 1315.1L1400.5 1315.9L1401.6 1316.6L1402.6 1317.4L1403.7 1318.2L1404.7 1319.0L1405.8 1319.8L1406.8 1320.6L1407.9 1321.4L1409.0 1322.2L1410.0 1322.9L1411.1 1323.6L1412.1 1324.4L1413.2 1325.0L1414.3 1325.7L1415.4 1326.4L1416.6 1327.0L1417.7 1327.5L1418.9 1328.1L1420.0 1328.6L1421.2 1329.0L1422.5 1329.4L1423.7 1329.8L1425.0 1330.1L1426.3 1330.4L1427.6 1330.6L1428.9 1330.8L1430.3 1331.0L1431.6 1331.2L1433.0 1331.5L1434.3 1331.7L1435.7 1331.9L1437.0 1332.2L1438.3 1332.4L1439.7 1332.8L1441.0 1333.1L1442.3 1333.5L1443.5 1334.0L1444.8 1334.4L1446.1 1334.9L1447.3 1335.4L1448.6 1335.9L1449.8 1336.4L1451.1 1336.9L1452.3 1337.4L1453.6 1337.9L1454.8 1338.3L1456.1 1338.7L1457.4 1339.2L1458.6 1339.5L1459.9 1339.9L1461.2 1340.2L1462.5 1340.5L1463.8 1340.8L1465.1 1341.1L1466.4 1341.3L1467.7 1341.5L1469.0 1341.8L1470.3 1342.0L1471.6 1342.2L1473.0 1342.3L1474.3 1342.5L1475.6 1342.7L1476.9 1342.8L1478.3 1343.0L1479.6 1343.1L1480.9 1343.3L1482.3 1343.4L1483.6 1343.6L1484.9 1343.7L1486.2 1343.8L1487.6 1344.0L1488.9 1344.1L1490.2 1344.3L1491.6 1344.4L1492.9 1344.5L1494.2 1344.7L1495.5 1344.8L1496.9 1344.9L1498.2 1345.1L1499.5 1345.2L1500.8 1345.3L1502.2 1345.5L1503.5 1345.6L1504.8 1345.7L1506.2 1345.8L1507.5 1346.0L1508.8 1346.1L1510.2 1346.2L1511.5 1346.3L1512.8 1346.5L1514.1 1346.6L1515.5 1346.7L1516.8 1346.8L1518.1 1346.9L1519.5 1347.1L1520.8 1347.2L1522.1 1347.3L1523.4 1347.4L1524.8 1347.5L1526.1 1347.6L1527.4 1347.7L1528.8 1347.9L1530.1 1348.0L1531.4 1348.1L1532.8 1348.2L1534.1 1348.3L1535.4 1348.4L1536.7 1348.5L1538.1 1348.6L1539.4 1348.7L1540.7 1348.8L1542.1 1348.9L1543.4 1349.0L1544.7 1349.1L1546.1 1349.2L1547.4 1349.3L1548.7 1349.4L1550.0 1349.5L1551.4 1349.6L1552.7 1349.7L1554.0 1349.8L1555.4 1349.9L1556.7 1350.0L1558.0 1350.1L1559.4 1350.1L1560.7 1350.2L1562.0 1350.3L1563.4 1350.4L1564.7 1350.5L1566.0 1350.6L1567.4 1350.7L1568.7 1350.7L1570.0 1350.8L1571.3 1350.9L1572.7 1351.0L1574.0 1351.1L1575.3 1351.2L1576.7 1351.2L1578.0 1351.3L1579.3 1351.4L1580.7 1351.5L1582.0 1351.5L1583.3 1351.6L1584.7 1351.7L1586.0 1351.8L1587.3 1351.8L1588.7 1351.9L1590.0 1352.0L1591.3 1352.0L1592.7 1352.1L1594.0 1352.2L1595.3 1352.3L1596.7 1352.3L1598.0 1352.4L1599.3 1352.4L1600.6 1352.5L1602.0 1352.6L1603.3 1352.6L1604.6 1352.7L1606.0 1352.8L1607.3 1352.8L1608.6 1352.9L1610.0 1352.9L1611.3 1353.0L1612.6 1353.1L1614.0 1353.1L1615.3 1353.2L1616.6 1353.2L1618.0 1353.3L1619.3 1353.3L1620.6 1353.4L1622.0 1353.4L1623.3 1353.5L1624.6 1353.5L1626.0 1353.6L1627.3 1353.6L1628.6 1353.7L1630.0 1353.7L1631.3 1353.8L1632.6 1353.8L1634.0 1353.9L1635.3 1353.9L1636.6 1354.0L1638.0 1354.0L1639.3 1354.0L1640.6 1354.1L1642.0 1354.1L1643.3 1354.2L1644.6 1354.2L1646.0 1354.3L1647.3 1354.3L1648.6 1354.3L1650.0 1354.4L1651.3 1354.4L1652.6 1354.4L1654.0 1354.5L1655.3 1354.5L1656.6 1354.5L1658.0 1354.6L1659.3 1354.6L1660.7 1354.6L1662.0 1354.7L1663.3 1354.7L1664.7 1354.7L1666.0 1354.8L1667.3 1354.8L1668.7 1354.8L1670.0 1354.9L1671.3 1354.9L1672.7 1354.9L1674.0 1354.9L1675.3 1355.0L1676.7 1355.0L1678.0 1355.0L1679.3 1355.0L1680.7 1355.1L1682.0 1355.1L1683.3 1355.1L1684.7 1355.1L1686.0 1355.1L1687.3 1355.2L1688.7 1355.2L1690.0 1355.2L1691.3 1355.2L1692.7 1355.2L1694.0 1355.2L1695.4 1355.3L1696.7 1355.3L1698.0 1355.3L1699.4 1355.3L1700.7 1355.3L1702.0 1355.3L1703.4 1355.4L1704.7 1355.4L1706.0 1355.4L1707.4 1355.4L1708.7 1355.4L1710.0 1355.4L1711.4 1355.4L1712.7 1355.4L1714.0 1355.4L1715.4 1355.4L1716.7 1355.5L1718.1 1355.5L1719.4 1355.5L1720.7 1355.5L1722.1 1355.5L1723.4 1355.5L1724.7 1355.5L1726.1 1355.5L1727.4 1355.5L1728.7 1355.5L1730.1 1355.5L1731.4 1355.5L1732.8 1355.5L1734.1 1355.5L1735.4 1355.5L1736.8 1355.5L1738.1 1355.5L1739.4 1355.5L1740.8 1355.5L1742.1 1355.5L1743.4 1355.5L1744.8 1355.5L1746.1 1355.5L1747.4 1355.5L1748.8 1355.5L1750.1 1355.5L1751.5 1355.5L1752.8 1355.5L1754.1 1355.5L1755.5 1355.5L1756.8 1355.5L1758.1 1355.5L1759.5 1355.4L1760.8 1355.4L1762.1 1355.4L1763.5 1355.4L1764.8 1355.4L1766.2 1355.4L1767.5 1355.4L1768.8 1355.4L1770.2 1355.4L1771.5 1355.4L1772.8 1355.4L1774.2 1355.3L1775.5 1355.3L1776.9 1355.3L1778.2 1355.3L1779.5 1355.3L1780.9 1355.3L1782.2 1355.3L1783.5 1355.2L1784.9 1355.2L1786.2 1355.2L1787.5 1355.2L1788.9 1355.2L1790.2 1355.2L1791.6 1355.2L1792.9 1355.1L1794.2 1355.1L1795.6 1355.1L1796.9 1355.1L1798.2 1355.1L1799.6 1355.0L1800.9 1355.0L1802.3 1355.0L1803.6 1355.0L1804.9 1355.0L1806.3 1354.9L1807.6 1354.9L1808.9 1354.9L1810.3 1354.9L1811.6 1354.9L1813.0 1354.8L1814.3 1354.8L1815.6 1354.8L1817.0 1354.8L1818.3 1354.8L1819.6 1354.7L1821.0 1354.7L1822.3 1354.7L1823.7 1354.7L1825.0 1354.6L1826.3 1354.6L1827.7 1354.6L1829.0 1354.6L1830.3 1354.5L1831.7 1354.5L1833.0 1354.5L1834.4 1354.5L1835.7 1354.4L1837.0 1354.4L1838.4 1354.4L1839.7 1354.3L1841.0 1354.3L1842.4 1354.3L1843.7 1354.3L1845.1 1354.2L1846.4 1354.2L1847.7 1354.2L1849.1 1354.2L1850.4 1354.1L1851.7 1354.1L1853.1 1354.1L1854.4 1354.0L1855.8 1354.0L1857.1 1354.0L1858.4 1353.9L1859.8 1353.9L1861.1 1353.9L1862.4 1353.9L1863.8 1353.8L1865.1 1353.8L1866.5 1353.8L1867.8 1353.7L1869.1 1353.7L1870.5 1353.7L1871.8 1353.6L1873.1 1353.6L1874.5 1353.6L1875.8 1353.5L1877.2 1353.5L1878.5 1353.5L1879.8 1353.4L1881.2 1353.4L1882.5 1353.4L1883.9 1353.3L1885.2 1353.3L1886.5 1353.3L1887.9 1353.2L1889.2 1353.2L1890.5 1353.2L1891.9 1353.1L1893.2 1353.1L1894.6 1353.1L1895.9 1353.0L1897.2 1353.0L1898.6 1353.0L1899.9 1352.9L1901.2 1352.9L1902.6 1352.8L1903.9 1352.8L1905.3 1352.8L1906.6 1352.7L1907.9 1352.7L1909.3 1352.7L1910.6 1352.6L1911.9 1352.6L1913.3 1352.6L1914.6 1352.5L1916.0 1352.5L1917.3 1352.5L1918.6 1352.4L1920.0 1352.4L1921.3 1352.3L1922.7 1352.3L1924.0 1352.3L1925.3 1352.2L1926.7 1352.2L1928.0 1352.2L1929.3 1352.1L1930.7 1352.1L1932.0 1352.0L1933.4 1352.0L1934.7 1352.0L1936.0 1351.9L1937.4 1351.9L1938.7 1351.9L1940.1 1351.8L1941.4 1351.8L1942.7 1351.7L1944.1 1351.7L1945.4 1351.7L1946.7 1351.6L1948.1 1351.6L1949.4 1351.6L1950.8 1351.5L1952.1 1351.5L1953.4 1351.5L1954.8 1351.4L1956.1 1351.4L1957.4 1351.3L1958.8 1351.3L1960.1 1351.3L1961.5 1351.2L1962.8 1351.2L1964.1 1351.2L1965.5 1351.1L1966.8 1351.1L1968.2 1351.0L1969.5 1351.0L1970.8 1351.0L1972.2 1350.9L1973.5 1350.9L1974.8 1350.9L1976.2 1350.8L1977.5 1350.8L1978.9 1350.7L1980.2 1350.7L1981.5 1350.7L1982.9 1350.6L1984.2 1350.6L1985.5 1350.6L1986.9 1350.5L1988.2 1350.5L1989.6 1350.5L1990.9 1350.4L1992.2 1350.4L1993.6 1350.4L1994.9 1350.3L1996.3 1350.3L1997.6 1350.2L1998.9 1350.2L2000.3 1350.2L2001.6 1350.1L2002.9 1350.1L2004.3 1350.1L2005.6 1350.0L2007.0 1350.0L2008.3 1350.0L2009.6 1349.9L2011.0 1349.9L2012.3 1349.9L2013.6 1349.8L2015.0 1349.8L2016.3 1349.8L2017.7 1349.7L2019.0 1349.7L2020.3 1349.7L2021.7 1349.6L2023.0 1349.6L2024.3 1349.6L2025.7 1349.5L2027.0 1349.5L2028.4 1349.5L2029.7 1349.4L2031.0 1349.4L2032.4 1349.4L2033.7 1349.3L2035.1 1349.3L2036.4 1349.3L2037.7 1349.3L2039.1 1349.2L2040.4 1349.2L2041.7 1349.2L2043.1 1349.1L2044.4 1349.1L2045.8 1349.1L2047.1 1349.0L2048.4 1349.0L2049.8 1349.0L2051.1 1349.0L2052.4 1348.9L2053.8 1348.9L2055.1 1348.9L2056.5 1348.8L2057.8 1348.8L2059.1 1348.8L2060.5 1348.8L2061.8 1348.7L2063.1 1348.7L2064.5 1348.7L2065.8 1348.7L2067.2 1348.6L2068.5 1348.6L2069.8 1348.6L2071.2 1348.6L2072.5 1348.5L2073.8 1348.5L2075.2 1348.5L2076.5 1348.5L2077.9 1348.4L2079.2 1348.4L2080.5 1348.4L2081.9 1348.4L2083.2 1348.3L2084.5 1348.3L2085.9 1348.3L2087.2 1348.3L2088.6 1348.3L2089.9 1348.2L2091.2 1348.2L2092.6 1348.2L2093.9 1348.2L2095.2 1348.2L2096.6 1348.1L2097.9 1348.1L2099.3 1348.1L2100.6 1348.1L2101.9 1348.1L2103.3 1348.0L2104.6 1348.0L2105.9 1348.0L2107.3 1348.0L2108.6 1348.0L2109.9 1348.0L2111.3 1348.0L2112.6 1347.9L2114.0 1347.9L2115.3 1347.9L2116.6 1347.9L2118.0 1347.9L2119.3 1347.9L2120.6 1347.9L2122.0 1347.8L2123.3 1347.8L2124.7 1347.8L2126.0 1347.8L2127.3 1347.8L2128.7 1347.8L2130.0 1347.8L2131.3 1347.8L2132.7 1347.8L2134.0 1347.7L2135.3 1347.7L2136.7 1347.7L2138.0 1347.7L2139.4 1347.7L2140.7 1347.7L2142.0 1347.7L2143.4 1347.7L2144.7 1347.7L2146.0 1347.7L2147.4 1347.7L2148.7 1347.7L2150.0 1347.7L2151.4 1347.7L2152.7 1347.7L2154.1 1347.7L2155.4 1347.7L2156.7 1347.7L2158.1 1347.7L2159.4 1347.7L2160.7 1347.7L2162.1 1347.7L2163.4 1347.7L2164.7 1347.7L2166.1 1347.7L2167.4 1347.7L2168.7 1347.7L2170.1 1347.7L2171.4 1347.7L2172.8 1347.7L2174.1 1347.7L2175.4 1347.7L2176.8 1347.7L2178.1 1347.7L2179.4 1347.7L2180.8 1347.7L2182.1 1347.7L2183.4 1347.7L2184.8 1347.7L2186.1 1347.8L2187.4 1347.8L2188.8 1347.8L2190.1 1347.8L2191.5 1347.8L2192.8 1347.8L2194.1 1347.8L2195.5 1347.8L2196.8 1347.9L2198.1 1347.9L2199.5 1347.9L2200.8 1347.9L2202.1 1347.9L2203.5 1347.9L2204.8 1347.9L2206.1 1348.0L2207.5 1348.0L2208.8 1348.0L2210.1 1348.0L2211.5 1348.0L2212.8 1348.1L2214.1 1348.1L2215.5 1348.1L2216.8 1348.1L2218.2 1348.2L2219.5 1348.2L2220.8 1348.2L2222.2 1348.2L2223.5 1348.2L2224.8 1348.3L2226.2 1348.3L2227.5 1348.3L2228.8 1348.4L2230.2 1348.4L2231.5 1348.4L2232.8 1348.4L2234.2 1348.5L2235.5 1348.5L2235.5 1348.5" stroke="#000"/>
<path d="M336.5 1264.2L337.2 1263.2L337.9 1262.2L338.7 1261.1L339.4 1260.1L340.1 1259.1L340.8 1258.1L341.5 1257.1L342.2 1256.1L342.9 1255.0L343.7 1254.0L344.4 1253.0L345.1 1252.0L345.8 1251.0L346.5 1249.9L347.2 1248.9L347.9 1247.9L348.7 1246.9L349.4 1245.9L350.1 1244.9L350.8 1243.8L351.5 1242.8L352.2 1241.8L352.9 1240.8L353.7 1239.8L354.4 1238.8L355.1 1237.7L355.8 1236.7L356.5 1235.7L357.2 1234.7L357.9 1233.7L358.7 1232.6L359.4 1231.6L360.1 1230.6L360.8 1229.6L361.5 1228.6L362.2 1227.5L362.9 1226.5L363.7 1225.5L364.4 1224.5L365.1 1223.5L365.8 1222.5L366.5 1221.4L367.2 1220.4L367.9 1219.4L368.6 1218.4L369.4 1217.4L370.1 1216.3L370.8 1215.3L371.5 1214.3L372.2 1213.3L372.9 1212.3L373.6 1211.2L374.3 1210.2L375.1 1209.2L375.8 1208.2L376.5 1207.2L377.2 1206.1L377.9 1205.1L378.6 1204.1L379.3 1203.1L380.0 1202.1L380.7 1201.0L381.5 1200.0L382.2 1199.0L382.9 1198.0L383.6 1196.9L384.3 1195.9L385.0 1194.9L385.7 1193.9L386.4 1192.9L387.1 1191.8L387.8 1190.8L388.5 1189.8L389.2 1188.8L390.0 1187.7L390.7 1186.7L391.4 1185.7L392.1 1184.7L392.8 1183.7L393.5 1182.6L394.2 1181.6L394.9 1180.6L395.6 1179.6L396.3 1178.5L397.0 1177.5L397.7 1176.5L398.4 1175.5L399.1 1174.4L399.8 1173.4L400.5 1172.4L401.2 1171.4L401.9 1170.3L402.7 1169.3L403.4 1168.3L404.1 1167.3L404.8 1166.2L405.5 1165.2L406.2 1164.2L406.9 1163.2L407.6 1162.1L408.3 1161.1L409.0 1160.1L409.7 1159.0L410.4 1158.0L411.1 1157.0L411.8 1156.0L412.5 1154.9L413.2 1153.9L413.9 1152.9L414.6 1151.8L415.3 1150.8L415.9 1149.8L416.6 1148.7L417.3 1147.7L418.0 1146.7L418.7 1145.7L419.4 1144.6L420.1 1143.6L420.8 1142.6L421.5 1141.5L422.2 1140.5L422.9 1139.5L423.6 1138.4L424.3 1137.4L425.0 1136.4L425.7 1135.3L426.4 1134.3L427.0 1133.3L427.7 1132.2L428.4 1131.2L429.1 1130.2L429.8 1129.1L430.5 1128.1L431.2 1127.0L431.9 1126.0L432.6 1125.0L433.2 1123.9L433.9 1122.9L434.6 1121.9L435.3 1120.8L436.0 1119.8L436.7 1118.7L437.3 1117.7L438.0 1116.7L438.7 1115.6L439.4 1114.6L440.1 1113.5L440.8 1112.5L441.4 1111.5L442.1 1110.4L442.8 1109.4L443.5 1108.3L444.2 1107.3L444.8 1106.3L445.5 1105.2L446.2 1104.2L446.9 1103.1L447.5 1102.1L448.2 1101.0L448.9 1100.0L449.6 1098.9L450.2 1097.9L450.9 1096.9L451.6 1095.8L452.3 1094.8L452.9 1093.7L453.6 1092.7L454.3 1091.6L454.9 1090.6L455.6 1089.5L456.3 1088.5L456.9 1087.4L457.6 1086.4L458.3 1085.3L458.9 1084.3L459.6 1083.2L460.3 1082.2L460.9 1081.1L461.6 1080.1L462.3 1079.0L462.9 1078.0L463.6 1076.9L464.3 1075.9L464.9 1074.8L465.6 1073.8L466.2 1072.7L466.9 1071.6L467.5 1070.6L468.2 1069.5L468.9 1068.5L469.5 1067.4L470.2 1066.4L470.8 1065.3L471.5 1064.2L472.1 1063.2L472.8 1062.1L473.4 1061.1L474.1 1060.0L474.7 1058.9L475.4 1057.9L476.0 1056.8L476.7 1055.8L477.3 1054.7L478.0 1053.6L478.6 1052.6L479.3 1051.5L479.9 1050.4L480.6 1049.4L481.2 1048.3L481.8 1047.2L482.5 1046.2L483.1 1045.1L483.8 1044.0L484.4 1043.0L485.0 1041.9L485.7 1040.8L486.3 1039.8L487.0 1038.7L487.6 1037.6L488.2 1036.6L488.9 1035.5L489.5 1034.4L490.1 1033.3L490.8 1032.3L491.4 1031.2L492.0 1030.1L492.7 1029.0L493.3 1028.0L493.9 1026.9L494.5 1025.8L495.2 1024.7L495.8 1023.7L496.4 1022.6L497.0 1021.5L497.7 1020.4L498.3 1019.4L498.9 1018.3L499.5 1017.2L500.1 1016.1L500.8 1015.0L501.4 1013.9L502.0 1012.9L502.6 1011.8L503.2 1010.7L503.8 1009.6L504.5 1008.5L505.1 1007.4L505.7 1006.4L506.3 1005.3L506.9 1004.2L507.5 1003.1L508.1 1002.0L508.7 1000.9L509.3 999.8L509.9 998.7L510.5 997.6L511.1 996.6L511.8 995.5L512.4 994.4L513.0 993.3L513.6 992.2L514.2 991.1L514.8 990.0L515.4 989.0L516.1 987.9L516.7 986.8L517.3 985.7L518.0 984.7L518.6 983.6L519.2 982.6L519.9 981.5L520.6 980.5L521.2 979.4L521.9 978.4L522.6 977.4L523.3 976.3L524.0 975.3L524.7 974.3L525.4 973.3L526.1 972.3L526.9 971.3L527.6 970.3L528.4 969.4L529.1 968.4L529.9 967.4L530.7 966.5L531.5 965.5L532.3 964.6L533.1 963.7L533.9 962.7L534.7 961.8L535.5 960.9L536.4 959.9L537.2 959.0L538.0 958.1L538.8 957.1L539.6 956.2L540.5 955.3L541.3 954.4L542.1 953.4L542.9 952.5L543.7 951.6L544.5 950.6L545.3 949.7L546.1 948.7L546.9 947.8L547.7 946.8L548.4 945.8L549.2 944.9L550.0 943.9L550.7 942.9L551.5 941.9L552.3 941.0L553.0 940.0L553.8 939.0L554.6 938.0L555.3 937.1L556.1 936.1L556.9 935.1L557.6 934.2L558.4 933.2L559.2 932.2L560.0 931.3L560.8 930.3L561.6 929.3L562.4 928.4L563.2 927.5L564.1 926.5L564.9 925.6L565.8 924.7L566.6 923.7L567.5 922.8L568.4 921.9L569.3 921.0L570.2 920.1L571.1 919.3L572.1 918.4L573.0 917.5L574.0 916.7L574.9 915.9L575.9 915.1L576.9 914.3L577.9 913.5L578.9 912.7L580.0 912.0L581.0 911.2L582.1 910.5L583.1 909.9L584.2 909.2L585.2 908.5L586.3 907.9L587.4 907.3L588.5 906.8L589.6 906.2L590.7 905.7L591.8 905.2L592.9 904.8L594.1 904.4L595.2 904.0L596.3 903.6L597.5 903.3L598.6 903.0L599.8 902.8L600.9 902.5L602.1 902.4L603.3 902.2L604.4 902.1L605.6 902.0L608.0 902.0L609.1 902.1L610.3 902.2L611.5 902.3L612.7 902.5L613.9 902.7L615.0 903.0L616.2 903.2L617.4 903.5L618.6 903.9L619.8 904.3L620.9 904.7L622.1 905.1L623.3 905.6L624.4 906.1L625.6 906.6L626.7 907.2L627.9 907.7L629.0 908.3L630.2 909.0L631.3 909.6L632.4 910.3L633.6 911.0L634.7 911.7L635.8 912.4L636.9 913.2L638.0 913.9L639.0 914.7L640.1 915.5L641.2 916.3L642.2 917.1L643.3 918.0L644.3 918.8L645.3 919.7L646.3 920.5L647.3 921.4L648.3 922.3L649.2 923.2L650.2 924.1L651.1 925.0L652.0 925.9L652.9 926.8L653.8 927.7L654.7 928.6L655.6 929.5L656.4 930.4L657.3 931.3L658.1 932.3L658.9 933.2L659.7 934.1L660.5 935.1L661.3 936.0L662.0 937.0L662.8 937.9L663.5 938.9L664.2 939.8L665.0 940.8L665.7 941.7L666.4 942.7L667.1 943.7L667.8 944.7L668.4 945.7L669.1 946.7L669.8 947.7L670.4 948.7L671.1 949.7L671.7 950.7L672.3 951.7L673.0 952.8L673.6 953.8L674.2 954.8L674.8 955.9L675.4 956.9L676.0 958.0L676.6 959.1L677.2 960.1L677.8 961.2L678.4 962.3L679.0 963.4L679.6 964.5L680.1 965.6L680.7 966.7L681.3 967.8L681.8 968.9L682.4 970.0L682.9 971.2L683.5 972.3L684.0 973.4L684.6 974.5L685.1 975.7L685.7 976.8L686.2 978.0L686.7 979.1L687.2 980.3L687.8 981.4L688.3 982.6L688.8 983.7L689.3 984.9L689.8 986.1L690.3 987.2L690.8 988.4L691.3 989.6L691.8 990.7L692.3 991.9L692.7 993.1L693.2 994.3L693.7 995.4L694.2 996.6L694.6 997.8L695.1 999.0L695.6 1000.1L696.0 1001.3L696.5 1002.5L696.9 1003.7L697.4 1004.8L697.8 1006.0L698.3 1007.2L698.7 1008.3L699.2 1009.5L699.6 1010.7L700.0 1011.8L700.5 1013.0L700.9 1014.2L701.3 1015.3L701.7 1016.5L702.1 1017.6L702.6 1018.8L703.0 1020.0L703.4 1021.1L703.8 1022.3L704.2 1023.4L704.6 1024.6L705.0 1025.7L705.5 1026.9L705.9 1028.0L706.3 1029.2L706.7 1030.3L707.1 1031.5L707.5 1032.6L707.9 1033.8L708.3 1034.9L708.7 1036.1L709.1 1037.2L709.5 1038.4L709.9 1039.5L710.3 1040.7L710.8 1041.8L711.2 1043.0L711.6 1044.1L712.0 1045.3L712.4 1046.4L712.8 1047.6L713.2 1048.7L713.7 1049.9L714.1 1051.0L714.5 1052.2L714.9 1053.3L715.4 1054.5L715.8 1055.6L716.2 1056.8L716.7 1057.9L717.1 1059.1L717.5 1060.2L718.0 1061.4L718.4 1062.5L718.9 1063.7L719.3 1064.8L719.8 1066.0L720.3 1067.1L720.7 1068.3L721.2 1069.4L721.7 1070.6L722.2 1071.7L722.7 1072.9L723.1 1074.1L723.6 1075.2L724.1 1076.4L724.6 1077.5L725.2 1078.7L725.7 1079.9L726.2 1081.0L726.7 1082.2L727.3 1083.4L727.8 1084.5L728.3 1085.7L728.9 1086.9L729.4 1088.0L730.0 1089.2L730.6 1090.4L731.2 1091.6L731.7 1092.7L732.3 1093.9L732.9 1095.1L733.5 1096.3L734.1 1097.5L734.8 1098.6L735.4 1099.8L736.1 1100.9L736.7 1102.1L737.4 1103.2L738.1 1104.3L738.8 1105.4L739.5 1106.5L740.2 1107.5L741.0 1108.5L741.7 1109.5L742.5 1110.4L743.3 1111.3L744.2 1112.2L745.0 1113.0L745.9 1113.8L746.8 1114.6L747.7 1115.3L748.6 1115.9L749.6 1116.5L750.6 1117.0L751.6 1117.5L752.7 1117.9L753.7 1118.3L754.8 1118.6L756.0 1118.8L757.2 1119.0L758.3 1119.1L759.6 1119.1L760.8 1119.1L762.0 1119.0L763.2 1118.8L764.5 1118.6L765.7 1118.4L766.9 1118.1L768.0 1117.7L769.2 1117.4L770.3 1116.9L771.4 1116.5L772.5 1116.0L773.6 1115.4L774.7 1114.8L775.7 1114.2L776.7 1113.6L777.7 1112.9L778.7 1112.2L779.7 1111.4L780.6 1110.7L781.5 1109.9L782.5 1109.0L783.4 1108.2L784.3 1107.3L785.1 1106.4L786.0 1105.5L786.9 1104.5L787.7 1103.6L788.5 1102.6L789.4 1101.6L790.2 1100.6L791.0 1099.6L791.8 1098.5L792.6 1097.5L793.3 1096.4L794.1 1095.3L794.9 1094.3L795.6 1093.2L796.4 1092.1L797.1 1091.0L797.9 1089.9L798.6 1088.8L799.3 1087.7L800.1 1086.6L800.8 1085.5L801.5 1084.4L802.2 1083.3L803.0 1082.3L803.7 1081.2L804.4 1080.1L805.1 1079.1L805.8 1078.0L806.6 1077.0L807.3 1076.0L808.0 1074.9L808.7 1073.9L809.4 1072.9L810.1 1071.9L810.9 1070.8L811.6 1069.8L812.3 1068.8L813.0 1067.8L813.7 1066.8L814.4 1065.8L815.1 1064.8L815.7 1063.7L816.4 1062.7L817.1 1061.7L817.8 1060.7L818.4 1059.7L819.1 1058.6L819.8 1057.6L820.4 1056.6L821.1 1055.5L821.7 1054.5L822.3 1053.4L823.0 1052.4L823.6 1051.3L824.2 1050.3L824.8 1049.2L825.5 1048.2L826.1 1047.1L826.7 1046.0L827.3 1045.0L827.9 1043.9L828.5 1042.8L829.1 1041.8L829.7 1040.7L830.2 1039.6L830.8 1038.5L831.4 1037.4L832.0 1036.3L832.5 1035.2L833.1 1034.2L833.7 1033.1L834.2 1032.0L834.8 1030.9L835.3 1029.8L835.9 1028.7L836.4 1027.6L837.0 1026.4L837.5 1025.3L838.1 1024.2L838.6 1023.1L839.2 1022.0L839.7 1020.9L840.2 1019.8L840.8 1018.7L841.3 1017.5L841.8 1016.4L842.3 1015.3L842.8 1014.2L843.4 1013.0L843.9 1011.9L844.4 1010.8L844.9 1009.6L845.4 1008.5L845.9 1007.4L846.5 1006.3L847.0 1005.1L847.5 1004.0L848.0 1002.8L848.5 1001.7L849.0 1000.6L849.5 999.4L850.0 998.3L850.5 997.2L851.0 996.0L851.5 994.9L852.0 993.7L852.5 992.6L853.0 991.5L853.5 990.3L854.0 989.2L854.5 988.0L855.0 986.9L855.5 985.7L856.0 984.6L856.5 983.5L857.0 982.3L857.5 981.2L858.0 980.0L858.5 978.9L859.0 977.7L859.5 976.6L860.0 975.5L860.5 974.3L861.0 973.2L861.5 972.0L862.0 970.9L862.5 969.8L863.0 968.6L863.5 967.5L864.0 966.3L864.5 965.2L865.0 964.1L865.6 962.9L866.1 961.8L866.6 960.6L867.1 959.5L867.6 958.4L868.1 957.2L868.6 956.1L869.1 954.9L869.6 953.8L870.1 952.7L870.7 951.5L871.2 950.4L871.7 949.2L872.2 948.1L872.7 947.0L873.2 945.8L873.7 944.7L874.3 943.6L874.8 942.4L875.3 941.3L875.8 940.1L876.3 939.0L876.8 937.9L877.4 936.7L877.9 935.6L878.4 934.5L878.9 933.3L879.4 932.2L880.0 931.1L880.5 929.9L881.0 928.8L881.5 927.7L882.0 926.5L882.6 925.4L883.1 924.3L883.6 923.1L884.2 922.0L884.7 920.9L885.2 919.7L885.7 918.6L886.3 917.5L886.8 916.4L887.3 915.2L887.9 914.1L888.4 913.0L888.9 911.8L889.4 910.7L890.0 909.6L890.5 908.5L891.0 907.3L891.6 906.2L892.1 905.1L892.7 903.9L893.2 902.8L893.7 901.7L894.3 900.6L894.8 899.4L895.3 898.3L895.9 897.2L896.4 896.1L897.0 894.9L897.5 893.8L898.1 892.7L898.6 891.6L899.1 890.5L899.7 889.3L900.2 888.2L900.8 887.1L901.3 886.0L901.9 884.9L902.4 883.7L903.0 882.6L903.5 881.5L904.1 880.4L904.6 879.3L905.2 878.1L905.7 877.0L906.3 875.9L906.8 874.8L907.4 873.7L907.9 872.6L908.5 871.4L909.1 870.3L909.6 869.2L910.2 868.1L910.7 867.0L911.3 865.9L911.9 864.8L912.4 863.6L913.0 862.5L913.5 861.4L914.1 860.3L914.7 859.2L915.2 858.1L915.8 857.0L916.4 855.9L916.9 854.8L917.5 853.7L918.1 852.5L918.7 851.4L919.2 850.3L919.8 849.2L920.4 848.1L920.9 847.0L921.5 845.9L922.1 844.8L922.7 843.7L923.2 842.6L923.8 841.5L924.4 840.4L925.0 839.3L925.6 838.2L926.1 837.1L926.7 836.0L927.3 834.9L927.9 833.8L928.5 832.7L929.1 831.6L929.7 830.5L930.2 829.4L930.8 828.3L931.4 827.2L932.0 826.1L932.6 825.0L933.2 823.9L933.8 822.8L934.4 821.8L935.0 820.7L935.6 819.6L936.2 818.5L936.8 817.4L937.4 816.3L938.0 815.2L938.6 814.1L939.2 813.0L939.8 811.9L940.4 810.9L941.0 809.8L941.6 808.7L942.2 807.6L942.8 806.5L943.4 805.4L944.0 804.3L944.6 803.3L945.2 802.2L945.9 801.1L946.5 800.0L947.1 798.9L947.7 797.9L948.3 796.8L948.9 795.7L949.5 794.6L950.2 793.6L950.8 792.5L951.4 791.4L952.0 790.3L952.7 789.3L953.3 788.2L953.9 787.1L954.5 786.0L955.2 785.0L955.8 783.9L956.4 782.8L957.0 781.8L957.7 780.7L958.3 779.6L958.9 778.6L959.6 777.5L960.2 776.4L960.8 775.4L961.5 774.3L962.1 773.2L962.8 772.2L963.4 771.1L964.0 770.0L964.7 769.0L965.3 767.9L966.0 766.9L966.6 765.8L967.3 764.7L967.9 763.7L968.6 762.6L969.2 761.6L969.9 760.5L970.5 759.5L971.2 758.4L971.8 757.4L972.5 756.3L973.1 755.3L973.8 754.2L974.5 753.2L975.1 752.1L975.8 751.1L976.5 750.0L977.1 749.0L977.8 747.9L978.5 746.9L979.1 745.8L979.8 744.8L980.5 743.7L981.1 742.7L981.8 741.7L982.5 740.6L983.2 739.6L983.8 738.5L984.5 737.5L985.2 736.5L985.9 735.4L986.5 734.4L987.2 733.4L987.9 732.3L988.6 731.3L989.3 730.3L990.0 729.2L990.7 728.2L991.3 727.2L992.0 726.1L992.7 725.1L993.4 724.1L994.1 723.1L994.8 722.0L995.5 721.0L996.2 720.0L996.9 719.0L997.6 718.0L998.3 716.9L999.0 715.9L999.7 714.9L1000.4 713.9L1001.1 712.9L1001.8 711.8L1002.5 710.8L1003.3 709.8L1004.0 708.8L1004.7 707.8L1005.4 706.8L1006.1 705.8L1006.8 704.8L1007.6 703.7L1008.3 702.7L1009.0 701.7L1009.7 700.7L1010.5 699.7L1011.2 698.7L1011.9 697.7L1012.6 696.7L1013.4 695.7L1014.1 694.7L1014.9 693.7L1015.6 692.7L1016.3 691.7L1017.1 690.7L1017.8 689.7L1018.6 688.8L1019.3 687.8L1020.1 686.8L1020.8 685.8L1021.6 684.8L1022.3 683.8L1023.1 682.8L1023.9 681.8L1024.6 680.9L1025.4 679.9L1026.1 678.9L1026.9 677.9L1027.7 677.0L1028.5 676.0L1029.2 675.0L1030.0 674.0L1030.8 673.1L1031.6 672.1L1032.4 671.1L1033.2 670.2L1034.0 669.2L1034.7 668.2L1035.5 667.3L1036.3 666.3L1037.1 665.3L1037.9 664.4L1038.8 663.4L1039.6 662.5L1040.4 661.5L1041.2 660.6L1042.0 659.6L1042.8 658.7L1043.6 657.7L1044.5 656.8L1045.3 655.8L1046.1 654.9L1047.0 653.9L1047.8 653.0L1048.6 652.1L1049.5 651.1L1050.3 650.2L1051.2 649.3L1052.0 648.3L1052.9 647.4L1053.7 646.5L1054.6 645.5L1055.5 644.6L1056.3 643.7L1057.2 642.8L1058.1 641.8L1059.0 640.9L1059.8 640.0L1060.7 639.1L1061.6 638.2L1062.5 637.3L1063.4 636.4L1064.3 635.5L1065.2 634.5L1066.1 633.6L1067.0 632.7L1067.9 631.9L1068.8 631.0L1069.7 630.1L1070.7 629.2L1071.6 628.4L1072.5 627.5L1073.5 626.7L1074.4 625.9L1075.4 625.1L1076.3 624.4L1077.3 623.7L1078.3 622.9L1079.3 622.3L1080.3 621.6L1081.3 621.0L1082.3 620.4L1083.3 619.9L1084.3 619.4L1085.4 618.9L1086.4 618.5L1087.5 618.1L1088.5 617.7L1089.6 617.4L1090.7 617.2L1091.8 617.0L1092.9 616.8L1094.0 616.7L1096.3 616.7L1097.5 616.8L1098.7 616.9L1099.9 617.1L1101.0 617.3L1102.3 617.6L1103.5 617.9L1104.7 618.3L1105.9 618.7L1107.1 619.2L1108.3 619.7L1109.6 620.2L1110.8 620.8L1112.0 621.3L1113.2 621.9L1114.4 622.6L1115.6 623.2L1116.8 623.9L1117.9 624.6L1119.1 625.2L1120.3 625.9L1121.4 626.6L1122.5 627.3L1123.6 628.0L1124.7 628.7L1125.7 629.4L1126.8 630.1L1127.8 630.8L1128.8 631.5L1129.8 632.2L1130.8 632.8L1131.7 633.5L1132.7 634.2L1133.7 634.9L1134.6 635.6L1135.6 636.3L1136.6 637.0L1137.6 637.7L1138.6 638.5L1139.6 639.2L1140.6 640.0L1141.6 640.7L1142.6 641.5L1143.7 642.3L1144.7 643.0L1145.8 643.8L1146.9 644.5L1148.0 645.2L1149.0 645.9L1150.1 646.5L1151.2 647.2L1152.3 647.8L1153.4 648.3L1154.5 648.8L1155.6 649.3L1156.7 649.7L1157.9 650.0L1159.0 650.3L1160.1 650.5L1161.2 650.7L1163.4 650.7L1165.6 650.5L1166.7 650.2L1167.8 649.9L1168.8 649.5L1169.9 649.0L1171.0 648.4L1172.1 647.8L1173.1 647.2L1174.2 646.5L1175.2 645.7L1176.2 644.9L1177.3 644.1L1178.3 643.3L1179.3 642.5L1180.3 641.6L1181.3 640.8L1182.3 639.9L1183.2 639.0L1184.2 638.2L1185.1 637.3L1186.1 636.4L1187.0 635.5L1187.9 634.6L1188.8 633.7L1189.7 632.8L1190.6 631.9L1191.5 631.0L1192.4 630.1L1193.2 629.1L1194.1 628.2L1194.9 627.3L1195.8 626.3L1196.6 625.4L1197.4 624.4L1198.2 623.4L1199.0 622.5L1199.8 621.5L1200.6 620.5L1201.4 619.6L1202.2 618.6L1202.9 617.6L1203.7 616.6L1204.4 615.6L1205.2 614.6L1205.9 613.6L1206.6 612.6L1207.3 611.6L1208.0 610.6L1208.7 609.5L1209.4 608.5L1210.1 607.5L1210.8 606.5L1211.4 605.4L1212.1 604.4L1212.8 603.3L1213.4 602.3L1214.0 601.2L1214.7 600.2L1215.3 599.1L1215.9 598.1L1216.5 597.0L1217.1 595.9L1217.7 594.9L1218.3 593.8L1218.9 592.7L1219.5 591.7L1220.1 590.6L1220.6 589.5L1221.2 588.4L1221.8 587.3L1222.3 586.2L1222.9 585.1L1223.4 584.0L1224.0 582.9L1224.5 581.9L1225.0 580.8L1225.6 579.7L1226.1 578.5L1226.7 577.4L1227.2 576.3L1227.8 575.2L1228.3 574.1L1228.9 573.0L1229.4 571.9L1230.0 570.8L1230.6 569.7L1231.2 568.6L1231.8 567.5L1232.4 566.4L1233.0 565.2L1233.6 564.1L1234.2 563.0L1234.9 561.9L1235.5 560.8L1236.2 559.7L1236.9 558.6L1237.6 557.4L1238.3 556.3L1239.1 555.2L1239.8 554.1L1240.6 553.0L1241.4 551.9L1242.2 550.8L1243.0 549.7L1243.9 548.7L1244.8 547.6L1245.7 546.6L1246.6 545.7L1247.5 544.8L1248.4 543.9L1249.4 543.2L1250.4 542.5L1251.4 541.9L1252.4 541.3L1253.4 540.9L1254.4 540.6L1255.5 540.3L1256.6 540.1L1258.7 540.1L1260.9 540.3L1262.0 540.5L1263.1 540.8L1264.2 541.2L1265.3 541.6L1266.4 542.1L1267.4 542.7L1268.5 543.3L1269.5 543.9L1270.6 544.6L1271.6 545.4L1272.6 546.2L1273.5 547.0L1274.5 547.9L1275.4 548.7L1276.3 549.7L1277.2 550.6L1278.0 551.6L1278.8 552.6L1279.6 553.6L1280.3 554.6L1281.0 555.7L1281.7 556.8L1282.4 557.8L1283.0 558.9L1283.6 560.0L1284.2 561.1L1284.8 562.3L1285.4 563.4L1285.9 564.5L1286.4 565.7L1287.0 566.8L1287.5 567.9L1288.0 569.1L1288.5 570.2L1289.0 571.4L1289.5 572.5L1290.0 573.7L1290.4 574.8L1290.9 576.0L1291.4 577.2L1291.8 578.3L1292.3 579.5L1292.7 580.6L1293.1 581.8L1293.6 583.0L1294.0 584.2L1294.4 585.3L1294.8 586.5L1295.2 587.7L1295.6 588.9L1296.0 590.0L1296.4 591.2L1296.8 592.4L1297.2 593.6L1297.5 594.8L1297.9 595.9L1298.3 597.1L1298.6 598.3L1299.0 599.5L1299.3 600.7L1299.7 601.9L1300.0 603.1L1300.3 604.3L1300.7 605.5L1301.0 606.7L1301.3 607.9L1301.6 609.1L1301.9 610.3L1302.2 611.5L1302.5 612.7L1302.8 613.9L1303.1 615.1L1303.4 616.3L1303.7 617.5L1304.0 618.7L1304.2 619.9L1304.5 621.2L1304.8 622.4L1305.0 623.6L1305.3 624.8L1305.6 626.0L1305.8 627.2L1306.1 628.4L1306.3 629.7L1306.6 630.9L1306.8 632.1L1307.0 633.3L1307.3 634.5L1307.5 635.8L1307.7 637.0L1308.0 638.2L1308.2 639.4L1308.4 640.7L1308.6 641.9L1308.9 643.1L1309.1 644.3L1309.3 645.6L1309.5 646.8L1309.7 648.0L1309.9 649.3L1310.1 650.5L1310.3 651.7L1310.5 653.0L1310.7 654.2L1310.9 655.4L1311.1 656.6L1311.3 657.9L1311.5 659.1L1311.7 660.3L1311.9 661.6L1312.1 662.8L1312.3 664.0L1312.5 665.3L1312.7 666.5L1312.8 667.7L1313.0 669.0L1313.2 670.2L1313.4 671.4L1313.6 672.7L1313.8 673.9L1314.0 675.1L1314.1 676.4L1314.3 677.6L1314.5 678.9L1314.7 680.1L1314.9 681.3L1315.1 682.6L1315.2 683.8L1315.4 685.0L1315.6 686.3L1315.8 687.5L1316.0 688.7L1316.2 690.0L1316.4 691.2L1316.5 692.4L1316.7 693.6L1316.9 694.9L1317.1 696.1L1317.3 697.3L1317.5 698.6L1317.7 699.8L1317.9 701.0L1318.1 702.3L1318.2 703.5L1318.4 704.7L1318.6 706.0L1318.8 707.2L1319.0 708.4L1319.2 709.6L1319.4 710.9L1319.6 712.1L1319.8 713.3L1320.0 714.6L1320.2 715.8L1320.4 717.0L1320.6 718.2L1320.8 719.5L1320.9 720.7L1321.1 721.9L1321.3 723.2L1321.5 724.4L1321.7 725.6L1321.9 726.8L1322.1 728.1L1322.3 729.3L1322.5 730.5L1322.7 731.8L1322.9 733.0L1323.1 734.2L1323.3 735.4L1323.5 736.7L1323.7 737.9L1323.9 739.1L1324.1 740.3L1324.3 741.6L1324.5 742.8L1324.7 744.0L1324.9 745.2L1325.1 746.5L1325.3 747.7L1325.5 748.9L1325.6 750.2L1325.8 751.4L1326.0 752.6L1326.2 753.8L1326.4 755.1L1326.6 756.3L1326.8 757.5L1327.0 758.7L1327.2 760.0L1327.4 761.2L1327.6 762.4L1327.8 763.6L1328.0 764.9L1328.2 766.1L1328.4 767.3L1328.6 768.5L1328.8 769.8L1329.0 771.0L1329.2 772.2L1329.4 773.5L1329.6 774.7L1329.7 775.9L1329.9 777.1L1330.1 778.4L1330.3 779.6L1330.5 780.8L1330.7 782.0L1330.9 783.3L1331.1 784.5L1331.3 785.7L1331.5 787.0L1331.7 788.2L1331.9 789.4L1332.0 790.6L1332.2 791.9L1332.4 793.1L1332.6 794.3L1332.8 795.5L1333.0 796.8L1333.2 798.0L1333.4 799.2L1333.5 800.5L1333.7 801.7L1333.9 802.9L1334.1 804.1L1334.3 805.4L1334.5 806.6L1334.6 807.8L1334.8 809.1L1335.0 810.3L1335.2 811.5L1335.4 812.8L1335.6 814.0L1335.7 815.2L1335.9 816.4L1336.1 817.7L1336.3 818.9L1336.5 820.1L1336.6 821.4L1336.8 822.6L1337.0 823.8L1337.2 825.1L1337.4 826.3L1337.5 827.5L1337.7 828.8L1337.9 830.0L1338.1 831.2L1338.2 832.4L1338.4 833.7L1338.6 834.9L1338.8 836.1L1338.9 837.4L1339.1 838.6L1339.3 839.8L1339.5 841.1L1339.6 842.3L1339.8 843.5L1340.0 844.8L1340.2 846.0L1340.3 847.2L1340.5 848.5L1340.7 849.7L1340.9 850.9L1341.0 852.2L1341.2 853.4L1341.4 854.6L1341.6 855.9L1341.7 857.1L1341.9 858.3L1342.1 859.6L1342.2 860.8L1342.4 862.0L1342.6 863.3L1342.7 864.5L1342.9 865.7L1343.1 867.0L1343.3 868.2L1343.4 869.4L1343.6 870.7L1343.8 871.9L1343.9 873.1L1344.1 874.4L1344.3 875.6L1344.4 876.8L1344.6 878.1L1344.8 879.3L1344.9 880.5L1345.1 881.8L1345.3 883.0L1345.5 884.2L1345.6 885.5L1345.8 886.7L1346.0 887.9L1346.1 889.2L1346.3 890.4L1346.5 891.6L1346.6 892.9L1346.8 894.1L1347.0 895.3L1347.1 896.6L1347.3 897.8L1347.5 899.0L1347.6 900.3L1347.8 901.5L1348.0 902.7L1348.1 904.0L1348.3 905.2L1348.5 906.5L1348.6 907.7L1348.8 908.9L1349.0 910.2L1349.1 911.4L1349.3 912.6L1349.5 913.9L1349.6 915.1L1349.8 916.3L1349.9 917.6L1350.1 918.8L1350.3 920.0L1350.4 921.3L1350.6 922.5L1350.8 923.7L1350.9 925.0L1351.1 926.2L1351.3 927.4L1351.4 928.7L1351.6 929.9L1351.8 931.1L1351.9 932.4L1352.1 933.6L1352.3 934.9L1352.4 936.1L1352.6 937.3L1352.8 938.6L1352.9 939.8L1353.1 941.0L1353.3 942.3L1353.4 943.5L1353.6 944.7L1353.8 946.0L1353.9 947.2L1354.1 948.4L1354.3 949.7L1354.4 950.9L1354.6 952.1L1354.8 953.4L1354.9 954.6L1355.1 955.8L1355.3 957.1L1355.5 958.3L1355.6 959.5L1355.8 960.8L1356.0 962.0L1356.1 963.2L1356.3 964.5L1356.5 965.7L1356.6 966.9L1356.8 968.2L1357.0 969.4L1357.1 970.6L1357.3 971.9L1357.5 973.1L1357.6 974.4L1357.8 975.6L1358.0 976.8L1358.2 978.1L1358.3 979.3L1358.5 980.5L1358.7 981.8L1358.8 983.0L1359.0 984.2L1359.2 985.5L1359.4 986.7L1359.5 987.9L1359.7 989.2L1359.9 990.4L1360.1 991.6L1360.2 992.9L1360.4 994.1L1360.6 995.3L1360.7 996.6L1360.9 997.8L1361.1 999.0L1361.3 1000.2L1361.4 1001.5L1361.6 1002.7L1361.8 1003.9L1362.0 1005.2L1362.2 1006.4L1362.3 1007.6L1362.5 1008.9L1362.7 1010.1L1362.9 1011.3L1363.0 1012.6L1363.2 1013.8L1363.4 1015.0L1363.6 1016.3L1363.8 1017.5L1363.9 1018.7L1364.1 1020.0L1364.3 1021.2L1364.5 1022.4L1364.7 1023.7L1364.8 1024.9L1365.0 1026.1L1365.2 1027.3L1365.4 1028.6L1365.6 1029.8L1365.7 1031.0L1365.9 1032.3L1366.1 1033.5L1366.3 1034.7L1366.5 1036.0L1366.7 1037.2L1366.9 1038.4L1367.0 1039.6L1367.2 1040.9L1367.4 1042.1L1367.6 1043.3L1367.8 1044.6L1368.0 1045.8L1368.2 1047.0L1368.4 1048.2L1368.5 1049.5L1368.7 1050.7L1368.9 1051.9L1369.1 1053.2L1369.3 1054.4L1369.5 1055.6L1369.7 1056.8L1369.9 1058.1L1370.1 1059.3L1370.3 1060.5L1370.5 1061.8L1370.7 1063.0L1370.9 1064.2L1371.0 1065.4L1371.2 1066.7L1371.4 1067.9L1371.6 1069.1L1371.8 1070.3L1372.0 1071.6L1372.2 1072.8L1372.4 1074.0L1372.6 1075.2L1372.8 1076.5L1373.0 1077.7L1373.2 1078.9L1373.4 1080.1L1373.6 1081.4L1373.8 1082.6L1374.0 1083.8L1374.2 1085.0L1374.4 1086.3L1374.7 1087.5L1374.9 1088.7L1375.1 1089.9L1375.3 1091.2L1375.5 1092.4L1375.7 1093.6L1375.9 1094.8L1376.1 1096.1L1376.3 1097.3L1376.5 1098.5L1376.7 1099.7L1376.9 1101.0L1377.2 1102.2L1377.4 1103.4L1377.6 1104.6L1377.8 1105.8L1378.0 1107.1L1378.2 1108.3L1378.4 1109.5L1378.7 1110.7L1378.9 1111.9L1379.1 1113.2L1379.3 1114.4L1379.5 1115.6L1379.8 1116.8L1380.0 1118.1L1380.2 1119.3L1380.4 1120.5L1380.6 1121.7L1380.9 1122.9L1381.1 1124.1L1381.3 1125.4L1381.5 1126.6L1381.8 1127.8L1382.0 1129.0L1382.2 1130.2L1382.5 1131.5L1382.7 1132.7L1382.9 1133.9L1383.2 1135.1L1383.4 1136.3L1383.6 1137.5L1383.9 1138.8L1384.1 1140.0L1384.3 1141.2L1384.6 1142.4L1384.8 1143.6L1385.0 1144.8L1385.3 1146.1L1385.5 1147.3L1385.8 1148.5L1386.0 1149.7L1386.3 1150.9L1386.5 1152.1L1386.8 1153.4L1387.0 1154.6L1387.3 1155.8L1387.5 1157.0L1387.8 1158.2L1388.0 1159.4L1388.3 1160.7L1388.5 1161.9L1388.8 1163.1L1389.0 1164.3L1389.3 1165.5L1389.6 1166.7L1389.8 1167.9L1390.1 1169.2L1390.4 1170.4L1390.6 1171.6L1390.9 1172.8L1391.2 1174.0L1391.4 1175.2L1391.7 1176.4L1392.0 1177.6L1392.3 1178.9L1392.5 1180.1L1392.8 1181.3L1393.1 1182.5L1393.4 1183.7L1393.7 1184.9L1394.0 1186.1L1394.2 1187.4L1394.5 1188.6L1394.8 1189.8L1395.1 1191.0L1395.4 1192.2L1395.7 1193.4L1396.0 1194.6L1396.3 1195.8L1396.6 1197.1L1396.9 1198.3L1397.2 1199.5L1397.5 1200.7L1397.8 1201.9L1398.1 1203.1L1398.4 1204.3L1398.8 1205.5L1399.1 1206.8L1399.4 1208.0L1399.7 1209.2L1400.0 1210.4L1400.4 1211.6L1400.7 1212.8L1401.0 1214.0L1401.3 1215.2L1401.7 1216.5L1402.0 1217.7L1402.3 1218.9L1402.7 1220.1L1403.0 1221.3L1403.4 1222.5L1403.7 1223.7L1404.1 1224.9L1404.4 1226.2L1404.8 1227.4L1405.1 1228.6L1405.5 1229.8L1405.9 1231.0L1406.2 1232.2L1406.6 1233.4L1407.0 1234.6L1407.3 1235.8L1407.7 1237.0L1408.1 1238.2L1408.5 1239.4L1408.9 1240.6L1409.3 1241.8L1409.7 1243.0L1410.1 1244.2L1410.5 1245.3L1410.9 1246.5L1411.3 1247.7L1411.8 1248.9L1412.2 1250.1L1412.6 1251.2L1413.1 1252.4L1413.5 1253.6L1414.0 1254.7L1414.4 1255.9L1414.9 1257.1L1415.3 1258.2L1415.8 1259.4L1416.3 1260.5L1416.8 1261.7L1417.3 1262.8L1417.8 1264.0L1418.3 1265.1L1418.8 1266.2L1419.3 1267.3L1419.8 1268.5L1420.3 1269.6L1420.9 1270.7L1421.4 1271.8L1421.9 1272.9L1422.5 1274.0L1423.1 1275.1L1423.6 1276.2L1424.2 1277.3L1424.8 1278.4L1425.4 1279.5L1426.0 1280.5L1426.6 1281.6L1427.2 1282.7L1427.8 1283.7L1428.5 1284.8L1429.1 1285.8L1429.7 1286.9L1430.4 1287.9L1431.1 1288.9L1431.7 1290.0L1432.4 1291.0L1433.1 1292.0L1433.8 1293.0L1434.5 1294.0L1435.2 1295.0L1435.9 1296.0L1436.7 1297.0L1437.4 1298.0L1438.2 1298.9L1438.9 1299.9L1439.7 1300.8L1440.5 1301.8L1441.3 1302.7L1442.1 1303.7L1442.9 1304.6L1443.7 1305.5L1444.6 1306.4L1445.4 1307.3L1446.2 1308.2L1447.1 1309.1L1448.0 1310.0L1448.9 1310.9L1449.8 1311.7L1450.7 1312.6L1451.6 1313.4L1452.5 1314.3L1453.4 1315.1L1454.4 1315.9L1455.3 1316.7L1456.3 1317.5L1457.2 1318.3L1458.2 1319.1L1459.2 1319.9L1460.2 1320.6L1461.2 1321.4L1462.2 1322.1L1463.2 1322.9L1464.2 1323.6L1465.2 1324.3L1466.3 1325.0L1467.3 1325.7L1468.4 1326.4L1469.4 1327.1L1470.5 1327.7L1471.6 1328.4L1472.6 1329.0L1473.7 1329.6L1474.8 1330.2L1475.9 1330.8L1477.0 1331.4L1478.1 1332.0L1479.2 1332.6L1480.3 1333.1L1481.5 1333.6L1482.6 1334.2L1483.7 1334.7L1484.9 1335.2L1486.0 1335.7L1487.1 1336.1L1488.3 1336.6L1489.5 1337.0L1490.6 1337.5L1491.8 1337.9L1492.9 1338.3L1494.1 1338.7L1495.3 1339.1L1496.5 1339.5L1497.7 1339.8L1498.8 1340.2L1500.0 1340.5L1501.2 1340.9L1502.4 1341.2L1503.6 1341.5L1504.8 1341.8L1506.0 1342.1L1507.2 1342.4L1508.5 1342.7L1509.7 1342.9L1510.9 1343.2L1512.1 1343.5L1513.3 1343.7L1514.6 1343.9L1515.8 1344.2L1517.0 1344.4L1518.2 1344.6L1519.5 1344.8L1520.7 1345.0L1521.9 1345.2L1523.2 1345.4L1524.4 1345.5L1525.6 1345.7L1526.9 1345.9L1528.1 1346.0L1529.3 1346.2L1530.6 1346.3L1531.8 1346.5L1533.1 1346.6L1534.3 1346.8L1535.5 1346.9L1536.8 1347.0L1538.0 1347.2L1539.3 1347.3L1540.5 1347.4L1541.7 1347.5L1543.0 1347.6L1544.2 1347.7L1545.5 1347.8L1546.7 1347.9L1547.9 1348.0L1549.2 1348.1L1550.4 1348.2L1551.7 1348.2L1552.9 1348.3L1554.2 1348.4L1555.4 1348.5L1556.6 1348.5L1557.9 1348.6L1559.1 1348.7L1560.4 1348.7L1561.6 1348.8L1562.8 1348.8L1564.1 1348.9L1565.3 1348.9L1566.6 1349.0L1567.8 1349.0L1569.1 1349.0L1570.3 1349.1L1571.5 1349.1L1572.8 1349.1L1574.0 1349.2L1575.3 1349.2L1576.5 1349.2L1577.7 1349.2L1579.0 1349.2L1580.2 1349.2L1581.5 1349.3L1582.7 1349.3L1584.0 1349.3L1585.2 1349.3L1586.4 1349.3L1587.7 1349.3L1588.9 1349.3L1590.2 1349.3L1591.4 1349.3L1592.7 1349.3L1593.9 1349.3L1595.1 1349.3L1596.4 1349.2L1597.6 1349.2L1598.9 1349.2L1600.1 1349.2L1601.4 1349.2L1602.6 1349.2L1603.8 1349.2L1605.1 1349.1L1606.3 1349.1L1607.6 1349.1L1608.8 1349.1L1610.1 1349.0L1611.3 1349.0L1612.5 1349.0L1613.8 1349.0L1615.0 1348.9L1616.3 1348.9L1617.5 1348.9L1618.8 1348.9L1620.0 1348.8L1621.3 1348.8L1622.5 1348.8L1623.7 1348.7L1625.0 1348.7L1626.2 1348.7L1627.5 1348.6L1628.7 1348.6L1630.0 1348.6L1631.2 1348.6L1632.4 1348.5L1633.7 1348.5L1634.9 1348.5L1636.2 1348.4L1637.4 1348.4L1638.7 1348.4L1639.9 1348.3L1641.2 1348.3L1642.4 1348.3L1643.6 1348.2L1644.9 1348.2L1646.1 1348.2L1647.4 1348.2L1648.6 1348.1L1649.9 1348.1L1651.1 1348.1L1652.3 1348.1L1653.6 1348.0L1654.8 1348.0L1656.1 1348.0L1657.3 1348.0L1658.6 1348.0L1659.8 1347.9L1661.1 1347.9L1662.3 1347.9L1663.5 1347.9L1664.8 1347.9L1666.0 1347.9L1667.3 1347.9L1668.5 1347.8L1669.8 1347.8L1671.0 1347.8L1672.3 1347.8L1673.5 1347.8L1674.7 1347.8L1676.0 1347.8L1677.2 1347.8L1678.5 1347.8L1679.7 1347.8L1681.0 1347.7L1682.2 1347.7L1683.4 1347.7L1684.7 1347.7L1685.9 1347.7L1687.2 1347.7L1688.4 1347.7L1689.7 1347.7L1690.9 1347.7L1692.2 1347.7L1693.4 1347.7L1694.6 1347.7L1695.9 1347.7L1697.1 1347.7L1698.4 1347.7L1699.6 1347.7L1700.9 1347.7L1702.1 1347.7L1703.4 1347.8L1704.6 1347.8L1705.8 1347.8L1707.1 1347.8L1708.3 1347.8L1709.6 1347.8L1710.8 1347.8L1712.1 1347.8L1713.3 1347.8L1714.6 1347.8L1715.8 1347.8L1717.0 1347.8L1718.3 1347.8L1719.5 1347.9L1720.8 1347.9L1722.0 1347.9L1723.3 1347.9L1724.5 1347.9L1725.8 1347.9L1727.0 1347.9L1728.2 1347.9L1729.5 1348.0L1730.7 1348.0L1732.0 1348.0L1733.2 1348.0L1734.5 1348.0L1735.7 1348.0L1737.0 1348.0L1738.2 1348.1L1739.4 1348.1L1740.7 1348.1L1741.9 1348.1L1743.2 1348.1L1744.4 1348.1L1745.7 1348.2L1746.9 1348.2L1748.2 1348.2L1749.4 1348.2L1750.6 1348.2L1751.9 1348.3L1753.1 1348.3L1754.4 1348.3L1755.6 1348.3L1756.9 1348.3L1758.1 1348.3L1759.4 1348.4L1760.6 1348.4L1761.9 1348.4L1763.1 1348.4L1764.3 1348.4L1765.6 1348.5L1766.8 1348.5L1768.1 1348.5L1769.3 1348.5L1770.6 1348.5L1771.8 1348.6L1773.1 1348.6L1774.3 1348.6L1775.5 1348.6L1776.8 1348.6L1778.0 1348.7L1779.3 1348.7L1780.5 1348.7L1781.8 1348.7L1783.0 1348.7L1784.3 1348.8L1785.5 1348.8L1786.7 1348.8L1788.0 1348.8L1789.2 1348.8L1790.5 1348.9L1791.7 1348.9L1793.0 1348.9L1794.2 1348.9L1795.5 1348.9L1796.7 1349.0L1797.9 1349.0L1799.2 1349.0L1800.4 1349.0L1801.7 1349.0L1802.9 1349.1L1804.2 1349.1L1805.4 1349.1L1806.7 1349.1L1807.9 1349.1L1809.1 1349.1L1810.4 1349.2L1811.6 1349.2L1812.9 1349.2L1814.1 1349.2L1815.4 1349.2L1816.6 1349.2L1817.9 1349.3L1819.1 1349.3L1820.3 1349.3L1821.6 1349.3L1822.8 1349.3L1824.1 1349.3L1825.3 1349.4L1826.6 1349.4L1827.8 1349.4L1829.1 1349.4L1830.3 1349.4L1831.5 1349.4L1832.8 1349.5L1834.0 1349.5L1835.3 1349.5L1836.5 1349.5L1837.8 1349.5L1839.0 1349.5L1840.3 1349.5L1841.5 1349.6L1842.7 1349.6L1844.0 1349.6L1845.2 1349.6L1846.5 1349.6L1847.7 1349.6L1849.0 1349.6L1850.2 1349.7L1851.4 1349.7L1852.7 1349.7L1853.9 1349.7L1855.2 1349.7L1856.4 1349.7L1857.7 1349.7L1858.9 1349.7L1860.2 1349.8L1861.4 1349.8L1862.6 1349.8L1863.9 1349.8L1865.1 1349.8L1866.4 1349.8L1867.6 1349.8L1868.9 1349.8L1870.1 1349.8L1871.4 1349.9L1872.6 1349.9L1873.8 1349.9L1875.1 1349.9L1876.3 1349.9L1877.6 1349.9L1878.8 1349.9L1880.1 1349.9L1881.3 1349.9L1882.6 1350.0L1883.8 1350.0L1885.0 1350.0L1886.3 1350.0L1887.5 1350.0L1888.8 1350.0L1890.0 1350.0L1891.3 1350.0L1892.5 1350.0L1893.8 1350.0L1895.0 1350.1L1896.2 1350.1L1897.5 1350.1L1898.7 1350.1L1900.0 1350.1L1901.2 1350.1L1902.5 1350.1L1903.7 1350.1L1904.9 1350.1L1906.2 1350.1L1907.4 1350.1L1908.7 1350.2L1909.9 1350.2L1911.2 1350.2L1912.4 1350.2L1913.7 1350.2L1914.9 1350.2L1916.1 1350.2L1917.4 1350.2L1918.6 1350.2L1919.9 1350.2L1921.1 1350.2L1922.4 1350.2L1923.6 1350.3L1924.9 1350.3L1926.1 1350.3L1927.3 1350.3L1928.6 1350.3L1929.8 1350.3L1931.1 1350.3L1932.3 1350.3L1933.6 1350.3L1934.8 1350.3L1936.1 1350.3L1937.3 1350.3L1938.5 1350.3L1939.8 1350.3L1941.0 1350.4L1942.3 1350.4L1943.5 1350.4L1944.8 1350.4L1946.0 1350.4L1947.2 1350.4L1948.5 1350.4L1949.7 1350.4L1951.0 1350.4L1952.2 1350.4L1953.5 1350.4L1954.7 1350.4L1956.0 1350.4L1957.2 1350.4L1958.4 1350.4L1959.7 1350.5L1960.9 1350.5L1962.2 1350.5L1963.4 1350.5L1964.7 1350.5L1965.9 1350.5L1967.2 1350.5L1968.4 1350.5L1969.6 1350.5L1970.9 1350.5L1972.1 1350.5L1973.4 1350.5L1974.6 1350.5L1975.9 1350.5L1977.1 1350.5L1978.3 1350.5L1979.6 1350.6L1980.8 1350.6L1982.1 1350.6L1983.3 1350.6L1984.6 1350.6L1985.8 1350.6L1987.1 1350.6L1988.3 1350.6L1989.5 1350.6L1990.8 1350.6L1992.0 1350.6L1993.3 1350.6L1994.5 1350.6L1995.8 1350.6L1997.0 1350.6L1998.3 1350.6L1999.5 1350.6L2000.7 1350.6L2002.0 1350.7L2003.2 1350.7L2004.5 1350.7L2005.7 1350.7L2007.0 1350.7L2008.2 1350.7L2009.5 1350.7L2010.7 1350.7L2011.9 1350.7L2013.2 1350.7L2014.4 1350.7L2015.7 1350.7L2016.9 1350.7L2018.2 1350.7L2019.4 1350.7L2020.6 1350.7L2021.9 1350.7L2023.1 1350.7L2024.4 1350.8L2025.6 1350.8L2026.9 1350.8L2028.1 1350.8L2029.4 1350.8L2030.6 1350.8L2031.8 1350.8L2033.1 1350.8L2034.3 1350.8L2035.6 1350.8L2036.8 1350.8L2038.1 1350.8L2039.3 1350.8L2040.6 1350.8L2041.8 1350.8L2043.0 1350.8L2044.3 1350.8L2045.5 1350.8L2046.8 1350.9L2048.0 1350.9L2049.3 1350.9L2050.5 1350.9L2051.7 1350.9L2053.0 1350.9L2054.2 1350.9L2055.5 1350.9L2056.7 1350.9L2058.0 1350.9L2059.2 1350.9L2060.5 1350.9L2061.7 1350.9L2062.9 1350.9L2064.2 1350.9L2065.4 1350.9L2066.7 1351.0L2067.9 1351.0L2069.2 1351.0L2070.4 1351.0L2071.7 1351.0L2072.9 1351.0L2074.1 1351.0L2075.4 1351.0L2076.6 1351.0L2077.9 1351.0L2079.1 1351.0L2080.4 1351.0L2081.6 1351.0L2082.8 1351.0L2084.1 1351.0L2085.3 1351.1L2086.6 1351.1L2087.8 1351.1L2089.1 1351.1L2090.3 1351.1L2091.6 1351.1L2092.8 1351.1L2094.0 1351.1L2095.3 1351.1L2096.5 1351.1L2097.8 1351.1L2099.0 1351.1L2100.3 1351.1L2101.5 1351.2L2102.8 1351.2L2104.0 1351.2L2105.2 1351.2L2106.5 1351.2L2107.7 1351.2L2109.0 1351.2L2110.2 1351.2L2111.5 1351.2L2112.7 1351.2L2114.0 1351.2L2115.2 1351.2L2116.4 1351.3L2117.7 1351.3L2118.9 1351.3L2120.2 1351.3L2121.4 1351.3L2122.7 1351.3L2123.9 1351.3L2125.2 1351.3L2126.4 1351.3L2127.6 1351.3L2128.9 1351.4L2130.1 1351.4L2131.4 1351.4L2132.6 1351.4L2133.9 1351.4L2135.1 1351.4L2136.3 1351.4L2137.6 1351.4L2138.8 1351.4L2140.1 1351.4L2141.3 1351.5L2142.6 1351.5L2143.8 1351.5L2145.1 1351.5L2146.3 1351.5L2147.5 1351.5L2148.8 1351.5L2150.0 1351.5L2151.3 1351.5L2152.5 1351.6L2153.8 1351.6L2155.0 1351.6L2156.3 1351.6L2157.5 1351.6L2157.5 1351.6" stroke="#ff0000"/>
<path d="M330.1 1325.6L331.2 1325.5L332.4 1325.4L333.6 1325.3L334.8 1325.2L335.9 1325.1L337.1 1324.9L338.2 1324.8L339.3 1324.6L340.4 1324.3L341.5 1324.1L342.6 1323.9L343.7 1323.6L344.8 1323.3L345.9 1323.0L347.0 1322.7L348.0 1322.4L349.1 1322.0L350.2 1321.6L351.2 1321.3L352.2 1320.9L353.3 1320.5L354.3 1320.1L355.3 1319.6L356.3 1319.2L357.3 1318.7L358.4 1318.3L359.4 1317.8L360.3 1317.3L361.3 1316.8L362.3 1316.3L363.3 1315.8L364.3 1315.3L365.3 1314.7L366.2 1314.2L367.2 1313.6L368.2 1313.1L369.1 1312.5L370.1 1311.9L371.0 1311.4L372.0 1310.8L372.9 1310.2L373.9 1309.6L374.8 1309.0L375.8 1308.4L376.7 1307.8L377.6 1307.2L378.6 1306.6L379.5 1306.0L380.4 1305.4L381.4 1304.8L382.3 1304.2L383.2 1303.6L384.2 1303.0L385.1 1302.4L386.0 1301.7L386.9 1301.1L387.9 1300.5L388.8 1299.9L389.7 1299.3L390.6 1298.7L391.6 1298.1L392.5 1297.4L393.4 1296.8L394.3 1296.2L395.3 1295.6L396.2 1294.9L397.1 1294.3L398.0 1293.7L398.9 1293.1L399.9 1292.4L400.8 1291.8L401.7 1291.2L402.6 1290.6L403.5 1289.9L404.4 1289.3L405.3 1288.7L406.3 1288.0L407.2 1287.4L408.1 1286.8L409.0 1286.1L409.9 1285.5L410.8 1284.9L411.7 1284.2L412.7 1283.6L413.6 1283.0L414.5 1282.3L415.4 1281.7L416.3 1281.1L417.2 1280.4L418.1 1279.8L419.0 1279.1L419.9 1278.5L420.9 1277.9L421.8 1277.2L422.7 1276.6L423.6 1275.9L424.5 1275.3L425.4 1274.6L426.3 1274.0L427.2 1273.4L428.2 1272.7L429.1 1272.1L430.0 1271.4L430.9 1270.8L431.8 1270.1L432.7 1269.5L433.6 1268.8L434.5 1268.2L435.5 1267.5L436.4 1266.9L437.3 1266.3L438.2 1265.6L439.1 1265.0L440.0 1264.3L441.0 1263.7L441.9 1263.0L442.8 1262.4L443.7 1261.7L444.6 1261.1L445.6 1260.4L446.5 1259.8L447.4 1259.1L448.3 1258.5L449.2 1257.8L450.2 1257.2L451.1 1256.5L452.0 1255.9L452.9 1255.2L453.9 1254.6L454.8 1254.0L455.7 1253.3L456.7 1252.7L457.6 1252.1L458.5 1251.5L459.5 1250.8L460.4 1250.2L461.4 1249.6L462.3 1249.0L463.3 1248.4L464.2 1247.8L465.2 1247.2L466.1 1246.6L467.1 1246.1L468.0 1245.5L469.0 1244.9L470.0 1244.4L470.9 1243.8L471.9 1243.3L472.9 1242.7L473.8 1242.2L474.8 1241.7L475.8 1241.2L476.8 1240.6L477.8 1240.2L478.8 1239.7L479.8 1239.2L480.7 1238.7L481.7 1238.3L482.8 1237.8L483.8 1237.4L484.8 1236.9L485.8 1236.5L486.8 1236.1L487.8 1235.7L488.9 1235.3L489.9 1234.9L490.9 1234.6L492.0 1234.2L493.0 1233.9L494.1 1233.6L495.1 1233.2L496.2 1232.9L497.2 1232.7L498.3 1232.4L499.4 1232.1L500.4 1231.9L501.5 1231.7L502.6 1231.4L503.7 1231.2L504.8 1231.0L505.9 1230.9L507.0 1230.7L508.1 1230.6L509.2 1230.4L510.3 1230.3L511.4 1230.2L512.5 1230.1L514.8 1230.0L517.0 1229.9L519.3 1229.9L521.5 1229.9L523.8 1230.0L526.0 1230.2L527.1 1230.3L528.3 1230.4L529.4 1230.5L530.5 1230.6L531.6 1230.8L532.7 1231.0L533.8 1231.1L535.0 1231.3L536.1 1231.5L537.2 1231.8L538.3 1232.0L539.4 1232.3L540.5 1232.5L541.6 1232.8L542.7 1233.1L543.7 1233.4L544.8 1233.7L545.9 1234.1L547.0 1234.4L548.0 1234.8L549.1 1235.2L550.1 1235.6L551.2 1236.0L552.2 1236.4L553.3 1236.8L554.3 1237.3L555.3 1237.7L556.3 1238.2L557.3 1238.7L558.3 1239.2L559.3 1239.7L560.3 1240.2L561.3 1240.8L562.3 1241.3L563.3 1241.9L564.3 1242.4L565.2 1243.0L566.2 1243.5L567.2 1244.1L568.1 1244.6L569.1 1245.2L570.1 1245.8L571.0 1246.3L572.0 1246.9L573.0 1247.5L573.9 1248.0L574.9 1248.6L575.9 1249.1L576.8 1249.7L577.8 1250.2L578.8 1250.7L579.7 1251.3L580.7 1251.8L581.7 1252.3L582.7 1252.7L583.7 1253.2L584.7 1253.7L585.7 1254.1L586.7 1254.5L587.7 1255.0L588.7 1255.4L589.7 1255.7L590.8 1256.1L591.8 1256.4L592.9 1256.7L593.9 1257.0L595.0 1257.3L596.0 1257.6L597.1 1257.9L598.2 1258.1L599.3 1258.4L600.3 1258.6L601.4 1258.8L602.5 1259.1L603.6 1259.3L604.7 1259.5L605.7 1259.8L606.8 1260.0L607.9 1260.2L609.0 1260.5L610.1 1260.8L611.1 1261.1L612.2 1261.3L613.3 1261.6L614.4 1261.9L615.4 1262.3L616.5 1262.6L617.5 1262.9L618.6 1263.3L619.7 1263.6L620.7 1264.0L621.8 1264.3L622.8 1264.7L623.9 1265.1L624.9 1265.4L626.0 1265.8L627.0 1266.2L628.1 1266.6L629.1 1267.0L630.2 1267.4L631.2 1267.8L632.3 1268.2L633.3 1268.7L634.3 1269.1L635.4 1269.5L636.4 1269.9L637.5 1270.3L638.5 1270.8L639.5 1271.2L640.6 1271.6L641.6 1272.0L642.7 1272.4L643.7 1272.9L644.7 1273.3L645.8 1273.7L646.8 1274.1L647.9 1274.5L648.9 1274.9L650.0 1275.4L651.0 1275.8L652.0 1276.2L653.1 1276.6L654.1 1277.0L655.2 1277.3L656.2 1277.7L657.3 1278.1L658.3 1278.5L659.4 1278.8L660.4 1279.2L661.5 1279.5L662.5 1279.9L663.6 1280.2L664.7 1280.6L665.7 1280.9L666.8 1281.2L667.8 1281.5L668.9 1281.8L670.0 1282.1L671.0 1282.4L672.1 1282.7L673.2 1282.9L674.3 1283.2L675.3 1283.5L676.4 1283.7L677.5 1284.0L678.6 1284.2L679.6 1284.5L680.7 1284.7L681.8 1285.0L682.9 1285.2L684.0 1285.4L685.0 1285.7L686.1 1285.9L687.2 1286.1L688.3 1286.4L689.4 1286.6L690.4 1286.8L691.5 1287.1L692.6 1287.3L693.7 1287.6L694.8 1287.8L695.9 1288.0L696.9 1288.3L698.0 1288.5L699.1 1288.8L700.2 1289.0L701.3 1289.3L702.3 1289.5L703.4 1289.8L704.5 1290.1L705.6 1290.3L706.6 1290.6L707.7 1290.9L708.8 1291.2L709.9 1291.5L710.9 1291.8L712.0 1292.1L713.1 1292.4L714.1 1292.8L715.2 1293.1L716.3 1293.5L717.3 1293.8L718.4 1294.2L719.4 1294.5L720.5 1294.9L721.6 1295.3L722.6 1295.7L723.7 1296.1L724.7 1296.6L725.8 1297.0L726.8 1297.4L727.9 1297.8L728.9 1298.3L730.0 1298.7L731.0 1299.1L732.0 1299.6L733.1 1300.0L734.1 1300.5L735.2 1300.9L736.2 1301.4L737.3 1301.8L738.3 1302.2L739.4 1302.7L740.4 1303.1L741.4 1303.5L742.5 1303.9L743.5 1304.3L744.6 1304.7L745.6 1305.1L746.7 1305.5L747.7 1305.9L748.8 1306.3L749.8 1306.6L750.9 1307.0L752.0 1307.3L753.0 1307.6L754.1 1307.9L755.1 1308.2L756.2 1308.5L757.3 1308.8L758.3 1309.0L759.4 1309.2L760.5 1309.5L761.6 1309.6L762.6 1309.8L763.7 1310.0L764.8 1310.1L765.9 1310.2L768.1 1310.4L770.3 1310.5L772.5 1310.6L774.7 1310.6L776.9 1310.5L779.1 1310.4L781.3 1310.3L782.4 1310.2L783.5 1310.1L784.6 1309.9L785.8 1309.8L786.9 1309.7L788.0 1309.5L789.1 1309.4L790.2 1309.2L791.3 1309.1L792.5 1308.9L793.6 1308.7L794.7 1308.5L795.8 1308.3L796.9 1308.2L798.0 1308.0L799.2 1307.7L800.3 1307.5L801.4 1307.3L802.5 1307.1L803.6 1306.9L804.7 1306.7L805.9 1306.5L807.0 1306.2L808.1 1306.0L809.2 1305.8L810.3 1305.6L811.4 1305.3L812.5 1305.1L813.6 1304.9L814.7 1304.7L815.8 1304.5L816.9 1304.3L818.0 1304.1L819.1 1303.9L820.2 1303.6L821.3 1303.4L822.4 1303.2L823.5 1303.0L824.6 1302.8L825.7 1302.6L826.8 1302.4L827.8 1302.2L828.9 1302.0L830.0 1301.8L831.1 1301.6L832.2 1301.4L833.2 1301.1L834.3 1300.9L835.4 1300.7L836.4 1300.4L837.5 1300.2L838.6 1299.9L839.6 1299.7L840.7 1299.4L841.8 1299.1L842.8 1298.8L843.9 1298.5L844.9 1298.2L846.0 1297.9L847.0 1297.6L848.1 1297.2L849.1 1296.9L850.2 1296.5L851.2 1296.1L852.2 1295.7L853.3 1295.3L854.3 1294.9L855.3 1294.5L856.4 1294.0L857.4 1293.6L858.4 1293.1L859.4 1292.7L860.5 1292.2L861.5 1291.7L862.5 1291.2L863.5 1290.7L864.5 1290.2L865.5 1289.7L866.5 1289.2L867.5 1288.6L868.5 1288.1L869.5 1287.6L870.5 1287.1L871.4 1286.5L872.4 1286.0L873.4 1285.4L874.4 1284.9L875.3 1284.3L876.3 1283.7L877.3 1283.2L878.2 1282.6L879.2 1282.0L880.1 1281.4L881.1 1280.8L882.0 1280.2L883.0 1279.7L883.9 1279.1L884.9 1278.5L885.8 1277.9L886.7 1277.2L887.7 1276.6L888.6 1276.0L889.5 1275.4L890.5 1274.8L891.4 1274.2L892.3 1273.5L893.2 1272.9L894.2 1272.3L895.1 1271.6L896.0 1271.0L896.9 1270.4L897.8 1269.7L898.8 1269.1L899.7 1268.4L900.6 1267.8L901.5 1267.1L902.4 1266.5L903.3 1265.8L904.2 1265.2L905.1 1264.5L906.0 1263.9L906.9 1263.2L907.8 1262.6L908.7 1261.9L909.7 1261.3L910.6 1260.6L911.5 1259.9L912.4 1259.3L913.3 1258.6L914.2 1258.0L915.1 1257.3L916.0 1256.6L916.9 1256.0L917.8 1255.3L918.7 1254.7L919.6 1254.0L920.5 1253.3L921.4 1252.7L922.3 1252.0L923.2 1251.4L924.1 1250.7L925.0 1250.1L925.9 1249.4L926.8 1248.7L927.7 1248.1L928.6 1247.4L929.5 1246.8L930.4 1246.1L931.3 1245.5L932.2 1244.8L933.1 1244.2L934.1 1243.5L935.0 1242.9L935.9 1242.3L936.8 1241.6L937.7 1241.0L938.6 1240.3L939.5 1239.7L940.4 1239.0L941.3 1238.4L942.2 1237.7L943.1 1237.1L944.0 1236.4L944.9 1235.7L945.8 1235.1L946.7 1234.4L947.6 1233.8L948.5 1233.1L949.4 1232.5L950.3 1231.8L951.2 1231.1L952.1 1230.5L953.0 1229.8L953.9 1229.1L954.7 1228.5L955.6 1227.8L956.5 1227.1L957.4 1226.4L958.3 1225.7L959.1 1225.1L960.0 1224.4L960.9 1223.7L961.8 1223.0L962.6 1222.3L963.5 1221.6L964.4 1220.9L965.2 1220.2L966.1 1219.5L966.9 1218.8L967.8 1218.0L968.6 1217.3L969.5 1216.6L970.3 1215.9L971.2 1215.1L972.0 1214.4L972.8 1213.7L973.7 1212.9L974.5 1212.2L975.3 1211.4L976.2 1210.7L977.0 1209.9L977.8 1209.2L978.7 1208.4L979.5 1207.7L980.3 1206.9L981.1 1206.2L981.9 1205.4L982.8 1204.7L983.6 1203.9L984.4 1203.1L985.2 1202.4L986.0 1201.6L986.9 1200.8L987.7 1200.1L988.5 1199.3L989.3 1198.6L990.1 1197.8L990.9 1197.0L991.8 1196.3L992.6 1195.5L993.4 1194.7L994.2 1194.0L995.0 1193.2L995.8 1192.4L996.6 1191.7L997.4 1190.9L998.3 1190.1L999.1 1189.4L999.9 1188.6L1000.7 1187.8L1001.5 1187.1L1002.3 1186.3L1003.1 1185.5L1003.9 1184.8L1004.7 1184.0L1005.5 1183.2L1006.4 1182.4L1007.2 1181.7L1008.0 1180.9L1008.8 1180.1L1009.6 1179.3L1010.4 1178.6L1011.2 1177.8L1012.0 1177.0L1012.8 1176.2L1013.6 1175.5L1014.4 1174.7L1015.2 1173.9L1016.0 1173.1L1016.8 1172.4L1017.6 1171.6L1018.4 1170.8L1019.2 1170.0L1020.0 1169.2L1020.8 1168.4L1021.6 1167.7L1022.3 1166.9L1023.1 1166.1L1023.9 1165.3L1024.7 1164.5L1025.5 1163.7L1026.3 1162.9L1027.1 1162.2L1027.9 1161.4L1028.7 1160.6L1029.4 1159.8L1030.2 1159.0L1031.0 1158.2L1031.8 1157.4L1032.6 1156.6L1033.3 1155.8L1034.1 1155.0L1034.9 1154.2L1035.7 1153.4L1036.5 1152.6L1037.2 1151.8L1038.0 1151.0L1038.8 1150.2L1039.5 1149.4L1040.3 1148.6L1041.1 1147.8L1041.9 1147.0L1042.6 1146.2L1043.4 1145.4L1044.1 1144.5L1044.9 1143.7L1045.7 1142.9L1046.4 1142.1L1047.2 1141.3L1047.9 1140.5L1048.7 1139.6L1049.5 1138.8L1050.2 1138.0L1051.0 1137.2L1051.7 1136.4L1052.5 1135.5L1053.2 1134.7L1054.0 1133.9L1054.7 1133.1L1055.5 1132.2L1056.2 1131.4L1056.9 1130.6L1057.7 1129.7L1058.4 1128.9L1059.2 1128.1L1059.9 1127.2L1060.6 1126.4L1061.4 1125.5L1062.1 1124.7L1062.8 1123.9L1063.5 1123.0L1064.3 1122.2L1065.0 1121.3L1065.7 1120.5L1066.4 1119.6L1067.2 1118.8L1067.9 1117.9L1068.6 1117.1L1069.3 1116.2L1070.0 1115.3L1070.7 1114.5L1071.5 1113.6L1072.2 1112.8L1072.9 1111.9L1073.6 1111.0L1074.3 1110.2L1075.0 1109.3L1075.7 1108.4L1076.4 1107.6L1077.1 1106.7L1077.8 1105.8L1078.5 1104.9L1079.2 1104.1L1079.9 1103.2L1080.6 1102.3L1081.3 1101.4L1081.9 1100.5L1082.6 1099.7L1083.3 1098.8L1084.0 1097.9L1084.7 1097.0L1085.4 1096.1L1086.0 1095.2L1086.7 1094.3L1087.4 1093.4L1088.1 1092.5L1088.7 1091.6L1089.4 1090.8L1090.1 1089.9L1090.8 1089.0L1091.4 1088.1L1092.1 1087.2L1092.8 1086.3L1093.4 1085.4L1094.1 1084.5L1094.7 1083.6L1095.4 1082.6L1096.1 1081.7L1096.7 1080.8L1097.4 1079.9L1098.0 1079.0L1098.7 1078.1L1099.3 1077.2L1100.0 1076.3L1100.6 1075.4L1101.3 1074.5L1101.9 1073.5L1102.6 1072.6L1103.2 1071.7L1103.9 1070.8L1104.5 1069.9L1105.1 1068.9L1105.8 1068.0L1106.4 1067.1L1107.1 1066.2L1107.7 1065.3L1108.3 1064.3L1109.0 1063.4L1109.6 1062.5L1110.2 1061.6L1110.9 1060.6L1111.5 1059.7L1112.1 1058.8L1112.7 1057.8L1113.4 1056.9L1114.0 1056.0L1114.6 1055.0L1115.2 1054.1L1115.8 1053.2L1116.5 1052.2L1117.1 1051.3L1117.7 1050.4L1118.3 1049.4L1118.9 1048.5L1119.5 1047.6L1120.1 1046.6L1120.8 1045.7L1121.4 1044.8L1122.0 1043.8L1122.6 1042.9L1123.2 1041.9L1123.8 1041.0L1124.4 1040.0L1125.0 1039.1L1125.6 1038.2L1126.2 1037.2L1126.8 1036.3L1127.4 1035.3L1128.0 1034.4L1128.6 1033.4L1129.2 1032.5L1129.8 1031.5L1130.4 1030.6L1131.0 1029.6L1131.6 1028.7L1132.2 1027.8L1132.8 1026.8L1133.3 1025.9L1133.9 1024.9L1134.5 1024.0L1135.1 1023.0L1135.7 1022.1L1136.3 1021.1L1136.9 1020.2L1137.4 1019.2L1138.0 1018.2L1138.6 1017.3L1139.2 1016.3L1139.8 1015.4L1140.3 1014.4L1140.9 1013.5L1141.5 1012.5L1142.1 1011.6L1142.7 1010.6L1143.2 1009.7L1143.8 1008.7L1144.4 1007.8L1145.0 1006.8L1145.5 1005.8L1146.1 1004.9L1146.7 1003.9L1147.2 1003.0L1147.8 1002.0L1148.4 1001.1L1149.0 1000.1L1149.5 999.2L1150.1 998.2L1150.7 997.2L1151.2 996.3L1151.8 995.3L1152.4 994.4L1152.9 993.4L1153.5 992.5L1154.1 991.5L1154.6 990.5L1155.2 989.6L1155.8 988.6L1156.3 987.7L1156.9 986.7L1157.5 985.8L1158.0 984.8L1158.6 983.8L1159.2 982.9L1159.7 981.9L1160.3 981.0L1160.9 980.0L1161.4 979.0L1162.0 978.1L1162.6 977.1L1163.1 976.2L1163.7 975.2L1164.3 974.3L1164.8 973.3L1165.4 972.3L1165.9 971.4L1166.5 970.4L1167.1 969.5L1167.6 968.5L1168.2 967.6L1168.8 966.6L1169.4 965.6L1169.9 964.7L1170.5 963.7L1171.1 962.8L1171.6 961.8L1172.2 960.9L1172.8 959.9L1173.3 958.9L1173.9 958.0L1174.5 957.0L1175.0 956.1L1175.6 955.1L1176.2 954.2L1176.8 953.2L1177.3 952.3L1177.9 951.3L1178.5 950.3L1179.1 949.4L1179.6 948.4L1180.2 947.5L1180.8 946.5L1181.4 945.6L1181.9 944.6L1182.5 943.7L1183.1 942.7L1183.7 941.8L1184.3 940.8L1184.8 939.9L1185.4 938.9L1186.0 938.0L1186.6 937.0L1187.2 936.1L1187.8 935.1L1188.3 934.2L1188.9 933.2L1189.5 932.3L1190.1 931.3L1190.7 930.4L1191.3 929.4L1191.9 928.5L1192.5 927.5L1193.1 926.6L1193.7 925.6L1194.3 924.7L1194.9 923.8L1195.5 922.8L1196.1 921.9L1196.7 920.9L1197.3 920.0L1197.9 919.0L1198.5 918.1L1199.1 917.2L1199.7 916.2L1200.3 915.3L1200.9 914.3L1201.5 913.4L1202.1 912.5L1202.7 911.5L1203.3 910.6L1203.9 909.6L1204.6 908.7L1205.2 907.8L1205.8 906.8L1206.4 905.9L1207.0 904.9L1207.6 904.0L1208.2 903.1L1208.8 902.1L1209.5 901.2L1210.1 900.3L1210.7 899.3L1211.3 898.4L1211.9 897.4L1212.5 896.5L1213.2 895.6L1213.8 894.6L1214.4 893.7L1215.0 892.8L1215.6 891.8L1216.3 890.9L1216.9 890.0L1217.5 889.0L1218.1 888.1L1218.7 887.2L1219.4 886.2L1220.0 885.3L1220.6 884.4L1221.2 883.4L1221.9 882.5L1222.5 881.6L1223.1 880.6L1223.7 879.7L1224.3 878.7L1225.0 877.8L1225.6 876.9L1226.2 875.9L1226.8 875.0L1227.5 874.1L1228.1 873.1L1228.7 872.2L1229.3 871.3L1230.0 870.3L1230.6 869.4L1231.2 868.5L1231.8 867.5L1232.4 866.6L1233.1 865.7L1233.7 864.7L1234.3 863.8L1234.9 862.9L1235.6 861.9L1236.2 861.0L1236.8 860.1L1237.4 859.1L1238.0 858.2L1238.7 857.2L1239.3 856.3L1239.9 855.4L1240.5 854.4L1241.1 853.5L1241.7 852.6L1242.4 851.6L1243.0 850.7L1243.6 849.7L1244.2 848.8L1244.8 847.9L1245.4 846.9L1246.1 846.0L1246.7 845.1L1247.3 844.1L1247.9 843.2L1248.5 842.2L1249.1 841.3L1249.7 840.4L1250.3 839.4L1251.0 838.5L1251.6 837.5L1252.2 836.6L1252.8 835.7L1253.4 834.7L1254.0 833.8L1254.6 832.8L1255.2 831.9L1255.8 830.9L1256.4 830.0L1257.0 829.0L1257.6 828.1L1258.2 827.2L1258.8 826.2L1259.4 825.3L1260.0 824.3L1260.6 823.4L1261.2 822.4L1261.8 821.5L1262.4 820.5L1263.0 819.6L1263.6 818.6L1264.1 817.7L1264.7 816.7L1265.3 815.8L1265.9 814.8L1266.5 813.9L1267.1 812.9L1267.7 812.0L1268.2 811.0L1268.8 810.1L1269.4 809.1L1270.0 808.2L1270.6 807.2L1271.1 806.2L1271.7 805.3L1272.3 804.3L1272.8 803.4L1273.4 802.4L1274.0 801.5L1274.5 800.5L1275.1 799.5L1275.7 798.6L1276.2 797.6L1276.8 796.6L1277.4 795.7L1277.9 794.7L1278.5 793.8L1279.0 792.8L1279.6 791.8L1280.1 790.9L1280.7 789.9L1281.2 788.9L1281.8 787.9L1282.3 787.0L1282.9 786.0L1283.4 785.0L1283.9 784.1L1284.5 783.1L1285.0 782.1L1285.6 781.1L1286.1 780.2L1286.6 779.2L1287.1 778.2L1287.7 777.2L1288.2 776.3L1288.7 775.3L1289.2 774.3L1289.8 773.3L1290.3 772.3L1290.8 771.4L1291.3 770.4L1291.8 769.4L1292.3 768.4L1292.8 767.4L1293.3 766.4L1293.9 765.4L1294.4 764.5L1294.9 763.5L1295.4 762.5L1295.8 761.5L1296.3 760.5L1296.8 759.5L1297.3 758.5L1297.8 757.5L1298.3 756.5L1298.8 755.5L1299.3 754.5L1299.8 753.5L1300.2 752.5L1300.7 751.5L1301.2 750.5L1301.7 749.5L1302.2 748.5L1302.6 747.5L1303.1 746.5L1303.6 745.5L1304.0 744.5L1304.5 743.5L1305.0 742.5L1305.5 741.5L1305.9 740.5L1306.4 739.5L1306.9 738.5L1307.3 737.5L1307.8 736.5L1308.3 735.5L1308.7 734.5L1309.2 733.5L1309.6 732.5L1310.1 731.4L1310.6 730.4L1311.0 729.4L1311.5 728.4L1311.9 727.4L1312.4 726.4L1312.9 725.4L1313.3 724.4L1313.8 723.4L1314.2 722.4L1314.7 721.4L1315.2 720.3L1315.6 719.3L1316.1 718.3L1316.5 717.3L1317.0 716.3L1317.4 715.3L1317.9 714.3L1318.4 713.3L1318.8 712.3L1319.3 711.2L1319.7 710.2L1320.2 709.2L1320.7 708.2L1321.1 707.2L1321.6 706.2L1322.1 705.2L1322.5 704.2L1323.0 703.2L1323.4 702.2L1323.9 701.2L1324.4 700.1L1324.8 699.1L1325.3 698.1L1325.8 697.1L1326.2 696.1L1326.7 695.1L1327.2 694.1L1327.7 693.1L1328.1 692.1L1328.6 691.1L1329.1 690.1L1329.6 689.1L1330.0 688.1L1330.5 687.1L1331.0 686.1L1331.5 685.1L1332.0 684.0L1332.5 683.0L1332.9 682.0L1333.4 681.0L1333.9 680.0L1334.4 679.0L1334.9 678.0L1335.4 677.0L1335.9 676.0L1336.4 675.0L1336.9 674.1L1337.4 673.1L1337.9 672.1L1338.4 671.1L1338.9 670.1L1339.4 669.1L1340.0 668.1L1340.5 667.1L1341.0 666.1L1341.5 665.1L1342.0 664.1L1342.6 663.1L1343.1 662.1L1343.6 661.2L1344.2 660.2L1344.7 659.2L1345.2 658.2L1345.8 657.2L1346.3 656.2L1346.9 655.3L1347.4 654.3L1348.0 653.3L1348.5 652.3L1349.1 651.3L1349.6 650.4L1350.2 649.4L1350.8 648.4L1351.3 647.4L1351.9 646.5L1352.5 645.5L1353.0 644.5L1353.6 643.6L1354.2 642.6L1354.8 641.6L1355.4 640.7L1356.0 639.7L1356.6 638.8L1357.2 637.8L1357.8 636.8L1358.4 635.9L1359.0 634.9L1359.6 634.0L1360.2 633.0L1360.9 632.1L1361.5 631.1L1362.1 630.2L1362.8 629.2L1363.4 628.3L1364.0 627.3L1364.7 626.4L1365.3 625.4L1366.0 624.5L1366.7 623.6L1367.3 622.6L1368.0 621.7L1368.7 620.8L1369.3 619.8L1370.0 618.9L1370.7 618.0L1371.4 617.0L1372.1 616.1L1372.8 615.2L1373.5 614.3L1374.2 613.4L1374.9 612.4L1375.6 611.5L1376.3 610.6L1377.1 609.7L1377.8 608.8L1378.5 608.0L1379.3 607.1L1380.0 606.2L1380.8 605.3L1381.5 604.5L1382.3 603.6L1383.1 602.8L1383.8 602.0L1384.6 601.1L1385.4 600.3L1386.2 599.5L1387.0 598.7L1387.8 597.9L1388.6 597.1L1389.4 596.4L1390.2 595.6L1391.1 594.9L1391.9 594.2L1392.7 593.4L1393.6 592.7L1394.4 592.0L1395.3 591.4L1396.2 590.7L1397.0 590.0L1397.9 589.4L1398.8 588.8L1399.7 588.2L1400.6 587.6L1401.5 587.0L1402.4 586.5L1403.4 585.9L1404.3 585.4L1405.2 584.9L1406.2 584.4L1407.1 583.9L1408.1 583.5L1409.0 583.1L1410.0 582.6L1411.0 582.3L1412.0 581.9L1413.0 581.5L1414.0 581.2L1415.0 580.9L1416.0 580.6L1417.1 580.3L1418.1 580.1L1419.2 579.9L1420.2 579.7L1421.3 579.5L1422.3 579.3L1423.4 579.2L1424.5 579.1L1426.7 578.9L1428.9 578.8L1431.1 578.7L1433.4 578.8L1435.6 578.8L1437.9 578.9L1439.1 579.0L1440.2 579.1L1441.4 579.2L1442.5 579.3L1443.7 579.4L1444.8 579.5L1446.0 579.7L1447.1 579.8L1448.3 579.9L1449.4 580.1L1450.6 580.2L1451.7 580.4L1452.9 580.5L1454.0 580.7L1455.2 580.9L1456.3 581.0L1457.5 581.2L1458.6 581.4L1459.8 581.5L1460.9 581.7L1462.0 581.9L1463.2 582.0L1464.3 582.2L1465.4 582.3L1466.5 582.5L1467.7 582.6L1468.8 582.7L1469.9 582.8L1471.0 582.9L1473.2 583.1L1475.4 583.1L1477.6 583.2L1479.7 583.1L1481.8 582.9L1484.0 582.6L1485.0 582.5L1486.1 582.3L1487.1 582.0L1488.1 581.8L1489.2 581.5L1490.2 581.1L1491.2 580.7L1492.2 580.3L1493.2 579.9L1494.2 579.4L1495.2 579.0L1496.2 578.4L1497.2 577.9L1498.2 577.3L1499.1 576.8L1500.1 576.2L1501.1 575.6L1502.0 574.9L1503.0 574.3L1503.9 573.7L1504.8 573.0L1505.8 572.3L1506.7 571.7L1507.6 571.0L1508.5 570.3L1509.4 569.7L1510.3 569.0L1511.2 568.3L1512.1 567.6L1513.0 566.9L1513.9 566.2L1514.8 565.5L1515.6 564.8L1516.5 564.0L1517.3 563.3L1518.2 562.6L1519.0 561.8L1519.9 561.1L1520.7 560.4L1521.5 559.6L1522.3 558.9L1523.2 558.1L1524.0 557.3L1524.8 556.6L1525.6 555.8L1526.4 555.0L1527.2 554.2L1527.9 553.4L1528.7 552.6L1529.5 551.8L1530.3 551.0L1531.0 550.2L1531.8 549.4L1532.5 548.6L1533.3 547.8L1534.0 546.9L1534.7 546.1L1535.5 545.3L1536.2 544.4L1536.9 543.6L1537.6 542.7L1538.3 541.9L1539.0 541.0L1539.7 540.1L1540.4 539.3L1541.1 538.4L1541.8 537.5L1542.5 536.6L1543.1 535.8L1543.8 534.9L1544.5 534.0L1545.1 533.1L1545.8 532.2L1546.4 531.2L1547.0 530.3L1547.7 529.4L1548.3 528.5L1548.9 527.6L1549.6 526.6L1550.2 525.7L1550.8 524.8L1551.4 523.8L1552.0 522.9L1552.6 521.9L1553.2 521.0L1553.8 520.0L1554.4 519.0L1554.9 518.1L1555.5 517.1L1556.1 516.1L1556.7 515.1L1557.2 514.1L1557.8 513.2L1558.3 512.2L1558.9 511.2L1559.4 510.2L1560.0 509.2L1560.5 508.2L1561.1 507.2L1561.6 506.2L1562.2 505.2L1562.7 504.2L1563.2 503.2L1563.8 502.2L1564.3 501.2L1564.9 500.2L1565.4 499.2L1565.9 498.2L1566.5 497.2L1567.0 496.2L1567.6 495.2L1568.1 494.2L1568.7 493.2L1569.2 492.2L1569.8 491.2L1570.3 490.2L1570.9 489.2L1571.4 488.2L1572.0 487.2L1572.5 486.3L1573.1 485.3L1573.7 484.3L1574.3 483.3L1574.8 482.4L1575.4 481.4L1576.0 480.5L1576.6 479.5L1577.2 478.6L1577.8 477.6L1578.4 476.7L1579.0 475.7L1579.7 474.8L1580.3 473.9L1580.9 473.0L1581.6 472.1L1582.2 471.2L1582.9 470.3L1583.5 469.4L1584.2 468.5L1584.9 467.6L1585.6 466.8L1586.3 465.9L1587.0 465.0L1587.7 464.2L1588.4 463.4L1589.2 462.5L1589.9 461.7L1590.7 460.9L1591.4 460.1L1592.2 459.3L1593.0 458.6L1593.8 457.8L1594.6 457.0L1595.4 456.3L1596.3 455.5L1597.1 454.8L1598.0 454.1L1598.8 453.4L1599.7 452.7L1600.6 452.0L1601.5 451.4L1602.4 450.7L1603.4 450.1L1604.3 449.4L1605.3 448.8L1606.3 448.2L1607.2 447.7L1608.2 447.1L1609.2 446.7L1610.2 446.2L1611.2 445.8L1612.3 445.4L1613.3 445.1L1614.3 444.8L1615.3 444.6L1617.4 444.3L1619.4 444.3L1621.4 444.5L1623.4 444.9L1624.4 445.2L1625.4 445.6L1626.3 446.0L1627.2 446.5L1628.1 447.0L1629.0 447.6L1629.8 448.2L1630.7 448.8L1631.5 449.5L1632.3 450.2L1633.0 451.0L1633.8 451.8L1634.5 452.7L1635.2 453.5L1635.9 454.4L1636.6 455.3L1637.3 456.3L1637.9 457.2L1638.6 458.2L1639.2 459.2L1639.8 460.2L1640.5 461.2L1641.1 462.2L1641.7 463.2L1642.3 464.2L1642.8 465.3L1643.4 466.3L1644.0 467.3L1644.5 468.3L1645.1 469.3L1645.6 470.4L1646.2 471.4L1646.7 472.4L1647.3 473.4L1647.8 474.5L1648.3 475.5L1648.8 476.5L1649.3 477.6L1649.8 478.6L1650.3 479.6L1650.8 480.7L1651.3 481.7L1651.7 482.7L1652.2 483.8L1652.7 484.8L1653.1 485.9L1653.6 486.9L1654.0 487.9L1654.5 489.0L1654.9 490.0L1655.4 491.1L1655.8 492.1L1656.2 493.2L1656.6 494.2L1657.0 495.3L1657.5 496.3L1657.9 497.4L1658.3 498.4L1658.7 499.5L1659.1 500.5L1659.4 501.6L1659.8 502.6L1660.2 503.7L1660.6 504.7L1661.0 505.8L1661.3 506.9L1661.7 507.9L1662.0 509.0L1662.4 510.0L1662.8 511.1L1663.1 512.2L1663.5 513.2L1663.8 514.3L1664.1 515.3L1664.5 516.4L1664.8 517.5L1665.1 518.5L1665.5 519.6L1665.8 520.7L1666.1 521.7L1666.5 522.8L1666.8 523.9L1667.1 524.9L1667.4 526.0L1667.7 527.1L1668.0 528.1L1668.3 529.2L1668.6 530.3L1668.9 531.3L1669.3 532.4L1669.6 533.5L1669.9 534.5L1670.1 535.6L1670.4 536.7L1670.7 537.8L1671.0 538.8L1671.3 539.9L1671.6 541.0L1671.9 542.1L1672.2 543.1L1672.5 544.2L1672.8 545.3L1673.1 546.3L1673.3 547.4L1673.6 548.5L1673.9 549.6L1674.2 550.6L1674.5 551.7L1674.8 552.8L1675.1 553.9L1675.3 554.9L1675.6 556.0L1675.9 557.1L1676.2 558.2L1676.5 559.2L1676.7 560.3L1677.0 561.4L1677.3 562.5L1677.6 563.6L1677.9 564.6L1678.1 565.7L1678.4 566.8L1678.7 567.9L1679.0 568.9L1679.3 570.0L1679.5 571.1L1679.8 572.2L1680.1 573.3L1680.4 574.3L1680.6 575.4L1680.9 576.5L1681.2 577.6L1681.4 578.7L1681.7 579.7L1682.0 580.8L1682.3 581.9L1682.5 583.0L1682.8 584.1L1683.1 585.1L1683.3 586.2L1683.6 587.3L1683.9 588.4L1684.1 589.5L1684.4 590.5L1684.7 591.6L1685.0 592.7L1685.2 593.8L1685.5 594.9L1685.8 595.9L1686.0 597.0L1686.3 598.1L1686.6 599.2L1686.8 600.3L1687.1 601.4L1687.3 602.4L1687.6 603.5L1687.9 604.6L1688.1 605.7L1688.4 606.8L1688.7 607.9L1688.9 608.9L1689.2 610.0L1689.4 611.1L1689.7 612.2L1690.0 613.3L1690.2 614.4L1690.5 615.4L1690.7 616.5L1691.0 617.6L1691.3 618.7L1691.5 619.8L1691.8 620.9L1692.0 622.0L1692.3 623.0L1692.6 624.1L1692.8 625.2L1693.1 626.3L1693.3 627.4L1693.6 628.5L1693.8 629.5L1694.1 630.6L1694.4 631.7L1694.6 632.8L1694.9 633.9L1695.1 635.0L1695.4 636.1L1695.6 637.2L1695.9 638.2L1696.1 639.3L1696.4 640.4L1696.7 641.5L1696.9 642.6L1697.2 643.7L1697.4 644.8L1697.7 645.8L1697.9 646.9L1698.2 648.0L1698.4 649.1L1698.7 650.2L1698.9 651.3L1699.2 652.4L1699.4 653.5L1699.7 654.6L1699.9 655.6L1700.2 656.7L1700.4 657.8L1700.7 658.9L1700.9 660.0L1701.2 661.1L1701.4 662.2L1701.7 663.3L1701.9 664.3L1702.2 665.4L1702.4 666.5L1702.7 667.6L1702.9 668.7L1703.2 669.8L1703.4 670.9L1703.7 672.0L1703.9 673.1L1704.2 674.1L1704.4 675.2L1704.7 676.3L1704.9 677.4L1705.2 678.5L1705.4 679.6L1705.7 680.7L1705.9 681.8L1706.2 682.9L1706.4 684.0L1706.7 685.0L1706.9 686.1L1707.1 687.2L1707.4 688.3L1707.6 689.4L1707.9 690.5L1708.1 691.6L1708.4 692.7L1708.6 693.8L1708.9 694.9L1709.1 695.9L1709.4 697.0L1709.6 698.1L1709.9 699.2L1710.1 700.3L1710.4 701.4L1710.6 702.5L1710.8 703.6L1711.1 704.7L1711.3 705.8L1711.6 706.8L1711.8 707.9L1712.1 709.0L1712.3 710.1L1712.6 711.2L1712.8 712.3L1713.1 713.4L1713.3 714.5L1713.6 715.6L1713.8 716.7L1714.0 717.8L1714.3 718.8L1714.5 719.9L1714.8 721.0L1715.0 722.1L1715.3 723.2L1715.5 724.3L1715.8 725.4L1716.0 726.5L1716.3 727.6L1716.5 728.7L1716.8 729.8L1717.0 730.8L1717.2 731.9L1717.5 733.0L1717.7 734.1L1718.0 735.2L1718.2 736.3L1718.5 737.4L1718.7 738.5L1719.0 739.6L1719.2 740.7L1719.5 741.8L1719.7 742.8L1720.0 743.9L1720.2 745.0L1720.5 746.1L1720.7 747.2L1721.0 748.3L1721.2 749.4L1721.4 750.5L1721.7 751.6L1721.9 752.7L1722.2 753.8L1722.4 754.8L1722.7 755.9L1722.9 757.0L1723.2 758.1L1723.4 759.2L1723.7 760.3L1723.9 761.4L1724.2 762.5L1724.4 763.6L1724.7 764.7L1724.9 765.8L1725.2 766.8L1725.4 767.9L1725.7 769.0L1725.9 770.1L1726.2 771.2L1726.4 772.3L1726.7 773.4L1726.9 774.5L1727.2 775.6L1727.4 776.7L1727.7 777.7L1727.9 778.8L1728.2 779.9L1728.4 781.0L1728.7 782.1L1728.9 783.2L1729.2 784.3L1729.4 785.4L1729.7 786.5L1730.0 787.5L1730.2 788.6L1730.5 789.7L1730.7 790.8L1731.0 791.9L1731.2 793.0L1731.5 794.1L1731.7 795.2L1732.0 796.3L1732.2 797.4L1732.5 798.4L1732.8 799.5L1733.0 800.6L1733.3 801.7L1733.5 802.8L1733.8 803.9L1734.0 805.0L1734.3 806.1L1734.6 807.1L1734.8 808.2L1735.1 809.3L1735.3 810.4L1735.6 811.5L1735.8 812.6L1736.1 813.7L1736.4 814.8L1736.6 815.9L1736.9 816.9L1737.1 818.0L1737.4 819.1L1737.7 820.2L1737.9 821.3L1738.2 822.4L1738.5 823.5L1738.7 824.5L1739.0 825.6L1739.2 826.7L1739.5 827.8L1739.8 828.9L1740.0 830.0L1740.3 831.1L1740.6 832.2L1740.8 833.2L1741.1 834.3L1741.4 835.4L1741.6 836.5L1741.9 837.6L1742.2 838.7L1742.4 839.8L1742.7 840.8L1743.0 841.9L1743.2 843.0L1743.5 844.1L1743.8 845.2L1744.0 846.3L1744.3 847.3L1744.6 848.4L1744.9 849.5L1745.1 850.6L1745.4 851.7L1745.7 852.8L1745.9 853.9L1746.2 854.9L1746.5 856.0L1746.8 857.1L1747.0 858.2L1747.3 859.3L1747.6 860.4L1747.9 861.4L1748.1 862.5L1748.4 863.6L1748.7 864.7L1749.0 865.8L1749.3 866.8L1749.5 867.9L1749.8 869.0L1750.1 870.1L1750.4 871.2L1750.7 872.3L1750.9 873.3L1751.2 874.4L1751.5 875.5L1751.8 876.6L1752.1 877.7L1752.3 878.7L1752.6 879.8L1752.9 880.9L1753.2 882.0L1753.5 883.1L1753.8 884.1L1754.1 885.2L1754.3 886.3L1754.6 887.4L1754.9 888.5L1755.2 889.5L1755.5 890.6L1755.8 891.7L1756.1 892.8L1756.4 893.8L1756.7 894.9L1757.0 896.0L1757.3 897.1L1757.5 898.2L1757.8 899.2L1758.1 900.3L1758.4 901.4L1758.7 902.5L1759.0 903.5L1759.3 904.6L1759.6 905.7L1759.9 906.8L1760.2 907.9L1760.5 908.9L1760.8 910.0L1761.1 911.1L1761.4 912.2L1761.7 913.2L1762.0 914.3L1762.3 915.4L1762.6 916.5L1762.9 917.5L1763.2 918.6L1763.5 919.7L1763.8 920.7L1764.1 921.8L1764.4 922.9L1764.8 924.0L1765.1 925.0L1765.4 926.1L1765.7 927.2L1766.0 928.3L1766.3 929.3L1766.6 930.4L1766.9 931.5L1767.2 932.5L1767.6 933.6L1767.9 934.7L1768.2 935.8L1768.5 936.8L1768.8 937.9L1769.1 939.0L1769.5 940.0L1769.8 941.1L1770.1 942.2L1770.4 943.2L1770.7 944.3L1771.0 945.4L1771.4 946.4L1771.7 947.5L1772.0 948.6L1772.3 949.7L1772.7 950.7L1773.0 951.8L1773.3 952.9L1773.6 953.9L1774.0 955.0L1774.3 956.1L1774.6 957.1L1775.0 958.2L1775.3 959.3L1775.6 960.3L1776.0 961.4L1776.3 962.4L1776.6 963.5L1777.0 964.6L1777.3 965.6L1777.6 966.7L1778.0 967.8L1778.3 968.8L1778.6 969.9L1779.0 971.0L1779.3 972.0L1779.7 973.1L1780.0 974.1L1780.3 975.2L1780.7 976.3L1781.0 977.3L1781.4 978.4L1781.7 979.5L1782.1 980.5L1782.4 981.6L1782.8 982.6L1783.1 983.7L1783.5 984.8L1783.8 985.8L1784.2 986.9L1784.5 987.9L1784.9 989.0L1785.2 990.0L1785.6 991.1L1785.9 992.2L1786.3 993.2L1786.6 994.3L1787.0 995.3L1787.4 996.4L1787.7 997.4L1788.1 998.5L1788.4 999.6L1788.8 1000.6L1789.2 1001.7L1789.5 1002.7L1789.9 1003.8L1790.3 1004.8L1790.6 1005.9L1791.0 1006.9L1791.4 1008.0L1791.7 1009.0L1792.1 1010.1L1792.5 1011.1L1792.9 1012.2L1793.2 1013.3L1793.6 1014.3L1794.0 1015.4L1794.4 1016.4L1794.7 1017.5L1795.1 1018.5L1795.5 1019.6L1795.9 1020.6L1796.3 1021.7L1796.6 1022.7L1797.0 1023.8L1797.4 1024.8L1797.8 1025.9L1798.2 1026.9L1798.6 1027.9L1798.9 1029.0L1799.3 1030.0L1799.7 1031.1L1800.1 1032.1L1800.5 1033.2L1800.9 1034.2L1801.3 1035.3L1801.7 1036.3L1802.1 1037.4L1802.5 1038.4L1802.9 1039.4L1803.3 1040.5L1803.7 1041.5L1804.1 1042.6L1804.5 1043.6L1804.9 1044.7L1805.3 1045.7L1805.7 1046.7L1806.1 1047.8L1806.5 1048.8L1806.9 1049.9L1807.3 1050.9L1807.7 1051.9L1808.1 1053.0L1808.6 1054.0L1809.0 1055.1L1809.4 1056.1L1809.8 1057.1L1810.2 1058.2L1810.6 1059.2L1811.1 1060.3L1811.5 1061.3L1811.9 1062.3L1812.3 1063.4L1812.7 1064.4L1813.2 1065.4L1813.6 1066.5L1814.0 1067.5L1814.4 1068.5L1814.9 1069.6L1815.3 1070.6L1815.7 1071.6L1816.2 1072.7L1816.6 1073.7L1817.0 1074.7L1817.5 1075.8L1817.9 1076.8L1818.3 1077.8L1818.8 1078.9L1819.2 1079.9L1819.7 1080.9L1820.1 1081.9L1820.6 1083.0L1821.0 1084.0L1821.5 1085.0L1821.9 1086.0L1822.4 1087.1L1822.8 1088.1L1823.3 1089.1L1823.7 1090.1L1824.2 1091.2L1824.6 1092.2L1825.1 1093.2L1825.6 1094.2L1826.0 1095.2L1826.5 1096.2L1827.0 1097.3L1827.5 1098.3L1827.9 1099.3L1828.4 1100.3L1828.9 1101.3L1829.4 1102.3L1829.8 1103.3L1830.3 1104.3L1830.8 1105.3L1831.3 1106.3L1831.8 1107.3L1832.3 1108.3L1832.8 1109.3L1833.3 1110.3L1833.8 1111.3L1834.3 1112.3L1834.8 1113.3L1835.3 1114.3L1835.8 1115.3L1836.3 1116.3L1836.8 1117.3L1837.4 1118.3L1837.9 1119.3L1838.4 1120.3L1838.9 1121.2L1839.5 1122.2L1840.0 1123.2L1840.5 1124.2L1841.1 1125.2L1841.6 1126.1L1842.2 1127.1L1842.7 1128.1L1843.2 1129.1L1843.8 1130.0L1844.4 1131.0L1844.9 1132.0L1845.5 1132.9L1846.0 1133.9L1846.6 1134.8L1847.2 1135.8L1847.7 1136.8L1848.3 1137.7L1848.9 1138.7L1849.5 1139.6L1850.1 1140.6L1850.7 1141.5L1851.2 1142.4L1851.8 1143.4L1852.4 1144.3L1853.0 1145.3L1853.7 1146.2L1854.3 1147.1L1854.9 1148.1L1855.5 1149.0L1856.1 1149.9L1856.7 1150.8L1857.4 1151.8L1858.0 1152.7L1858.6 1153.6L1859.3 1154.5L1859.9 1155.4L1860.5 1156.3L1861.2 1157.2L1861.8 1158.2L1862.5 1159.1L1863.2 1160.0L1863.8 1160.9L1864.5 1161.8L1865.2 1162.7L1865.8 1163.5L1866.5 1164.4L1867.2 1165.3L1867.9 1166.2L1868.5 1167.1L1869.2 1168.0L1869.9 1168.9L1870.6 1169.8L1871.3 1170.6L1872.0 1171.5L1872.7 1172.4L1873.4 1173.3L1874.1 1174.1L1874.8 1175.0L1875.5 1175.9L1876.2 1176.7L1876.9 1177.6L1877.6 1178.5L1878.4 1179.3L1879.1 1180.2L1879.8 1181.1L1880.5 1181.9L1881.2 1182.8L1882.0 1183.7L1882.7 1184.5L1883.4 1185.4L1884.1 1186.2L1884.9 1187.1L1885.6 1187.9L1886.3 1188.8L1887.0 1189.7L1887.8 1190.5L1888.5 1191.4L1889.2 1192.2L1890.0 1193.1L1890.7 1193.9L1891.5 1194.8L1892.2 1195.6L1892.9 1196.5L1893.7 1197.3L1894.4 1198.2L1895.1 1199.0L1895.9 1199.9L1896.6 1200.7L1897.4 1201.6L1898.1 1202.4L1898.8 1203.2L1899.6 1204.1L1900.3 1204.9L1901.1 1205.8L1901.8 1206.6L1902.6 1207.4L1903.3 1208.3L1904.1 1209.1L1904.8 1209.9L1905.6 1210.8L1906.3 1211.6L1907.1 1212.4L1907.9 1213.2L1908.6 1214.1L1909.4 1214.9L1910.1 1215.7L1910.9 1216.5L1911.7 1217.3L1912.5 1218.1L1913.2 1218.9L1914.0 1219.7L1914.8 1220.5L1915.6 1221.3L1916.4 1222.0L1917.2 1222.8L1918.0 1223.6L1918.8 1224.4L1919.6 1225.1L1920.4 1225.9L1921.2 1226.6L1922.0 1227.4L1922.8 1228.1L1923.7 1228.9L1924.5 1229.6L1925.3 1230.3L1926.2 1231.1L1927.0 1231.8L1927.8 1232.5L1928.7 1233.2L1929.6 1233.9L1930.4 1234.6L1931.3 1235.3L1932.1 1235.9L1933.0 1236.6L1933.9 1237.3L1934.8 1237.9L1935.7 1238.6L1936.6 1239.2L1937.5 1239.9L1938.4 1240.5L1939.3 1241.1L1940.2 1241.7L1941.1 1242.3L1942.1 1242.9L1943.0 1243.5L1944.0 1244.1L1944.9 1244.7L1945.9 1245.3L1946.8 1245.8L1947.8 1246.4L1948.8 1246.9L1949.7 1247.5L1950.7 1248.0L1951.7 1248.5L1952.7 1249.0L1953.7 1249.6L1954.7 1250.1L1955.7 1250.6L1956.7 1251.1L1957.7 1251.6L1958.7 1252.1L1959.7 1252.6L1960.7 1253.1L1961.7 1253.6L1962.7 1254.1L1963.7 1254.6L1964.7 1255.1L1965.7 1255.6L1966.8 1256.1L1967.8 1256.6L1968.8 1257.1L1969.8 1257.6L1970.8 1258.1L1971.8 1258.6L1972.8 1259.1L1973.8 1259.6L1974.8 1260.1L1975.8 1260.6L1976.8 1261.1L1977.8 1261.6L1978.9 1262.1L1979.9 1262.6L1980.9 1263.1L1981.9 1263.6L1982.9 1264.1L1983.9 1264.6L1984.9 1265.1L1985.9 1265.6L1986.9 1266.1L1987.9 1266.6L1988.9 1267.1L1989.9 1267.6L1991.0 1268.1L1992.0 1268.6L1993.0 1269.1L1994.0 1269.6L1995.0 1270.0L1996.0 1270.5L1997.0 1271.0L1998.0 1271.5L1999.0 1272.0L2000.1 1272.4L2001.1 1272.9L2002.1 1273.4L2003.1 1273.9L2004.1 1274.3L2005.1 1274.8L2006.1 1275.3L2007.2 1275.7L2008.2 1276.2L2009.2 1276.6L2010.2 1277.1L2011.2 1277.5L2012.3 1278.0L2013.3 1278.4L2014.3 1278.9L2015.3 1279.3L2016.4 1279.7L2017.4 1280.2L2018.4 1280.6L2019.4 1281.0L2020.5 1281.4L2021.5 1281.9L2022.5 1282.3L2023.6 1282.7L2024.6 1283.1L2025.6 1283.5L2026.7 1283.9L2027.7 1284.3L2028.8 1284.7L2029.8 1285.1L2030.8 1285.4L2031.9 1285.8L2032.9 1286.2L2034.0 1286.6L2035.0 1286.9L2036.1 1287.3L2037.1 1287.6L2038.2 1288.0L2039.2 1288.3L2040.3 1288.7L2041.4 1289.0L2042.4 1289.3L2043.5 1289.6L2044.5 1290.0L2045.6 1290.3L2046.7 1290.6L2047.7 1290.9L2048.8 1291.2L2049.9 1291.5L2051.0 1291.7L2052.0 1292.0L2053.1 1292.3L2054.2 1292.6L2055.3 1292.8L2056.4 1293.1L2057.4 1293.3L2058.5 1293.6L2059.6 1293.8L2060.7 1294.0L2061.8 1294.2L2062.9 1294.4L2064.0 1294.7L2065.1 1294.8L2066.2 1295.0L2067.3 1295.2L2068.4 1295.4L2069.5 1295.6L2070.6 1295.7L2071.8 1295.9L2072.9 1296.0L2074.0 1296.2L2075.1 1296.3L2076.2 1296.4L2077.4 1296.6L2078.5 1296.7L2079.6 1296.8L2080.8 1296.9L2081.9 1296.9L2081.9 1296.9" stroke="#0000ff"/>
</g>
<g class="sans" font-size="81" text-anchor="end" fill="#000">
<text transform="translate(313.5 1371.0) scale(0.99 1.02)">0.0</text>
<text transform="translate(313.5 1115.8) scale(0.99 1.02)">0.2</text>
<text transform="translate(313.5 860.6) scale(0.99 1.02)">0.4</text>
<text transform="translate(313.5 605.4) scale(0.99 1.02)">0.6</text>
<text transform="translate(313.5 350.2) scale(0.99 1.02)">0.8</text>
<text transform="translate(313.5 95.0) scale(0.99 1.02)">1.0</text>
</g>
<g class="sans" font-size="75" text-anchor="middle" fill="#000">
<text transform="translate(474.3 1433.6) scale(0.983 1.02)">400</text>
<text transform="translate(740.8 1433.6) scale(0.983 1.02)">500</text>
<text transform="translate(1007.3 1433.6) scale(0.983 1.02)">600</text>
<text transform="translate(1273.9 1433.6) scale(0.983 1.02)">700</text>
<text transform="translate(1540.4 1433.6) scale(0.983 1.02)">800</text>
<text transform="translate(1807.0 1433.6) scale(0.983 1.02)">900</text>
<text transform="translate(2073.5 1433.6) scale(0.983 1.02)">1000</text>
</g>
<text class="serif" transform="translate(1253.7 1525) scale(1.036 1.045)" font-size="100" text-anchor="middle" fill="#000">Wavelength (nm)</text>
<text class="serif" transform="translate(117.4 702.8) rotate(-90) scale(1.0113 1.015)" font-size="105" text-anchor="middle" fill="#000">Normalized Absorption (a.u.)</text>
</svg>
</body></html>
